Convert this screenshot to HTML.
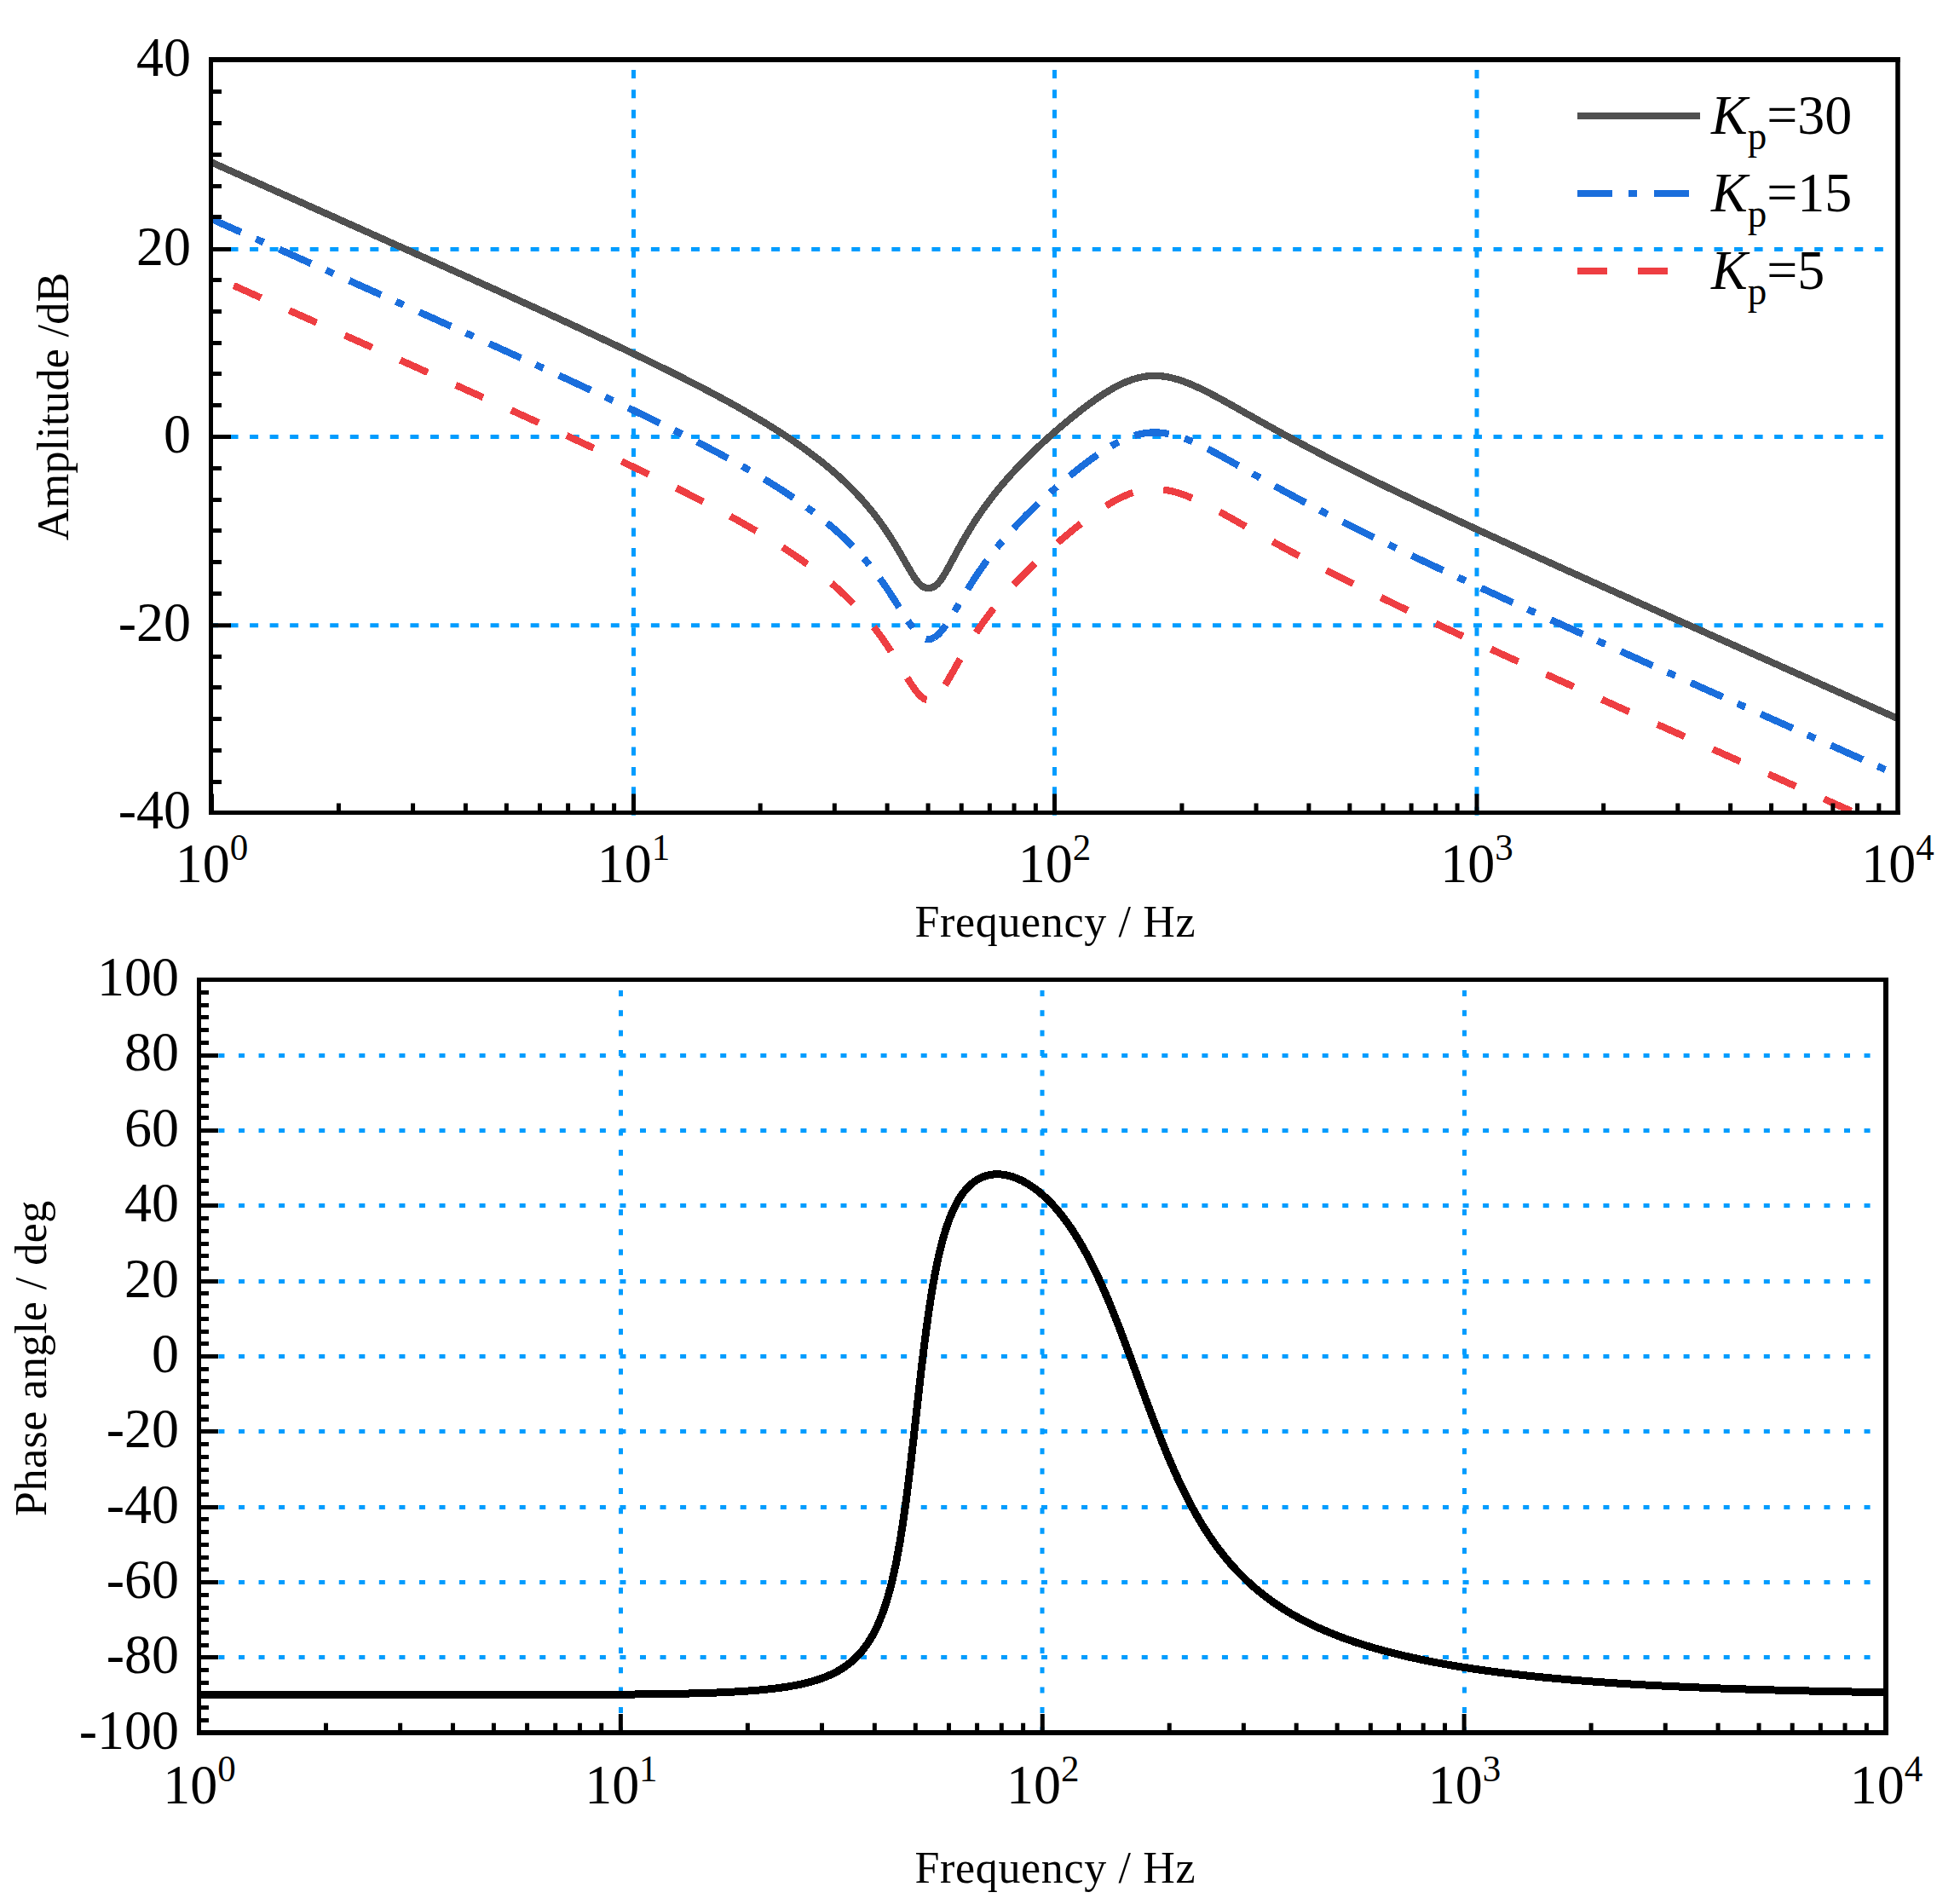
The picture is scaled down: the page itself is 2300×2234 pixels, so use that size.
<!DOCTYPE html>
<html><head><meta charset="utf-8"><title>Bode plot</title>
<style>
html,body{margin:0;padding:0;background:#fff;}
body{width:2300px;height:2234px;overflow:hidden;}
svg{display:block;}
text{font-family:"Liberation Serif","Times New Roman",serif;fill:#000;}
</style></head><body>
<svg xmlns="http://www.w3.org/2000/svg" width="2300" height="2234" viewBox="0 0 2300 2234">
<rect x="0" y="0" width="2300" height="2234" fill="#fff"/>

<line x1="743.5" y1="82" x2="743.5" y2="957" stroke="#009CFF" stroke-width="5" stroke-dasharray="10 13.37"/>
<line x1="1237.5" y1="82" x2="1237.5" y2="957" stroke="#009CFF" stroke-width="5" stroke-dasharray="10 13.37"/>
<line x1="1733.0" y1="82" x2="1733.0" y2="957" stroke="#009CFF" stroke-width="5" stroke-dasharray="10 13.37"/>
<line x1="246" y1="292.5" x2="2210" y2="292.5" stroke="#009CFF" stroke-width="5" stroke-dasharray="10 13.54"/>
<line x1="246" y1="512.5" x2="2210" y2="512.5" stroke="#009CFF" stroke-width="5" stroke-dasharray="10 13.54"/>
<line x1="246" y1="733.8" x2="2210" y2="733.8" stroke="#009CFF" stroke-width="5" stroke-dasharray="10 13.54"/>
<clipPath id="ct"><rect x="247.5" y="70" width="1979.25" height="883.50"/></clipPath>
<g clip-path="url(#ct)" fill="none" stroke-width="8.2" stroke-linejoin="round" shape-rendering="crispEdges">
<path d="M248.50,190.62 L249.82,191.21 L251.14,191.80 L252.46,192.39 L253.78,192.98 L255.10,193.57 L256.42,194.16 L257.74,194.75 L259.06,195.34 L260.38,195.93 L261.70,196.52 L263.02,197.11 L264.34,197.70 L265.66,198.29 L266.98,198.88 L268.30,199.47 L269.62,200.06 L270.94,200.65 L272.26,201.24 L273.58,201.83 L274.90,202.42 L276.22,203.01 L277.54,203.60 L278.86,204.19 L280.19,204.77 L281.51,205.36 L282.83,205.95 L284.15,206.54 L285.47,207.13 L286.79,207.72 L288.11,208.31 L289.43,208.90 L290.75,209.49 L292.07,210.08 L293.39,210.67 L294.71,211.26 L296.03,211.85 L297.35,212.44 L298.67,213.03 L299.99,213.62 L301.31,214.21 L302.63,214.80 L303.95,215.39 L305.27,215.98 L306.59,216.57 L307.91,217.16 L309.23,217.75 L310.55,218.34 L311.87,218.93 L313.19,219.52 L314.51,220.11 L315.83,220.70 L317.15,221.30 L318.47,221.89 L319.79,222.48 L321.11,223.07 L322.43,223.66 L323.75,224.25 L325.07,224.84 L326.39,225.43 L327.71,226.02 L329.03,226.61 L330.35,227.20 L331.67,227.79 L332.99,228.38 L334.31,228.97 L335.63,229.56 L336.95,230.15 L338.27,230.74 L339.59,231.33 L340.91,231.92 L342.24,232.51 L343.56,233.10 L344.88,233.69 L346.20,234.28 L347.52,234.87 L348.84,235.46 L350.16,236.05 L351.48,236.64 L352.80,237.23 L354.12,237.82 L355.44,238.41 L356.76,239.00 L358.08,239.59 L359.40,240.19 L360.72,240.78 L362.04,241.37 L363.36,241.96 L364.68,242.55 L366.00,243.14 L367.32,243.73 L368.64,244.32 L369.96,244.91 L371.28,245.50 L372.60,246.09 L373.92,246.68 L375.24,247.27 L376.56,247.86 L377.88,248.45 L379.20,249.04 L380.52,249.64 L381.84,250.23 L383.16,250.82 L384.48,251.41 L385.80,252.00 L387.12,252.59 L388.44,253.18 L389.76,253.77 L391.08,254.36 L392.40,254.95 L393.72,255.54 L395.04,256.14 L396.36,256.73 L397.68,257.32 L399.00,257.91 L400.32,258.50 L401.64,259.09 L402.96,259.68 L404.29,260.27 L405.61,260.86 L406.93,261.45 L408.25,262.05 L409.57,262.64 L410.89,263.23 L412.21,263.82 L413.53,264.41 L414.85,265.00 L416.17,265.59 L417.49,266.19 L418.81,266.78 L420.13,267.37 L421.45,267.96 L422.77,268.55 L424.09,269.14 L425.41,269.73 L426.73,270.33 L428.05,270.92 L429.37,271.51 L430.69,272.10 L432.01,272.69 L433.33,273.28 L434.65,273.88 L435.97,274.47 L437.29,275.06 L438.61,275.65 L439.93,276.24 L441.25,276.83 L442.57,277.43 L443.89,278.02 L445.21,278.61 L446.53,279.20 L447.85,279.79 L449.17,280.39 L450.49,280.98 L451.81,281.57 L453.13,282.16 L454.45,282.75 L455.77,283.35 L457.09,283.94 L458.41,284.53 L459.73,285.12 L461.05,285.72 L462.37,286.31 L463.69,286.90 L465.02,287.49 L466.34,288.09 L467.66,288.68 L468.98,289.27 L470.30,289.86 L471.62,290.46 L472.94,291.05 L474.26,291.64 L475.58,292.24 L476.90,292.83 L478.22,293.42 L479.54,294.01 L480.86,294.61 L482.18,295.20 L483.50,295.79 L484.82,296.39 L486.14,296.98 L487.46,297.57 L488.78,298.17 L490.10,298.76 L491.42,299.35 L492.74,299.95 L494.06,300.54 L495.38,301.13 L496.70,301.73 L498.02,302.32 L499.34,302.91 L500.66,303.51 L501.98,304.10 L503.30,304.70 L504.62,305.29 L505.94,305.88 L507.26,306.48 L508.58,307.07 L509.90,307.67 L511.22,308.26 L512.54,308.85 L513.86,309.45 L515.18,310.04 L516.50,310.64 L517.82,311.23 L519.14,311.83 L520.46,312.42 L521.78,313.02 L523.10,313.61 L524.42,314.21 L525.74,314.80 L527.07,315.40 L528.39,315.99 L529.71,316.59 L531.03,317.18 L532.35,317.78 L533.67,318.37 L534.99,318.97 L536.31,319.56 L537.63,320.16 L538.95,320.75 L540.27,321.35 L541.59,321.95 L542.91,322.54 L544.23,323.14 L545.55,323.73 L546.87,324.33 L548.19,324.93 L549.51,325.52 L550.83,326.12 L552.15,326.71 L553.47,327.31 L554.79,327.91 L556.11,328.50 L557.43,329.10 L558.75,329.70 L560.07,330.30 L561.39,330.89 L562.71,331.49 L564.03,332.09 L565.35,332.68 L566.67,333.28 L567.99,333.88 L569.31,334.48 L570.63,335.08 L571.95,335.67 L573.27,336.27 L574.59,336.87 L575.91,337.47 L577.23,338.07 L578.55,338.66 L579.87,339.26 L581.19,339.86 L582.51,340.46 L583.83,341.06 L585.15,341.66 L586.47,342.26 L587.79,342.86 L589.12,343.46 L590.44,344.06 L591.76,344.66 L593.08,345.26 L594.40,345.86 L595.72,346.46 L597.04,347.06 L598.36,347.66 L599.68,348.26 L601.00,348.86 L602.32,349.46 L603.64,350.06 L604.96,350.66 L606.28,351.26 L607.60,351.86 L608.92,352.46 L610.24,353.07 L611.56,353.67 L612.88,354.27 L614.20,354.87 L615.52,355.47 L616.84,356.08 L618.16,356.68 L619.48,357.28 L620.80,357.89 L622.12,358.49 L623.44,359.09 L624.76,359.70 L626.08,360.30 L627.40,360.90 L628.72,361.51 L630.04,362.11 L631.36,362.72 L632.68,363.32 L634.00,363.93 L635.32,364.53 L636.64,365.14 L637.96,365.74 L639.28,366.35 L640.60,366.95 L641.92,367.56 L643.24,368.16 L644.56,368.77 L645.88,369.38 L647.20,369.98 L648.52,370.59 L649.84,371.20 L651.17,371.81 L652.49,372.41 L653.81,373.02 L655.13,373.63 L656.45,374.24 L657.77,374.85 L659.09,375.46 L660.41,376.07 L661.73,376.67 L663.05,377.28 L664.37,377.89 L665.69,378.50 L667.01,379.12 L668.33,379.73 L669.65,380.34 L670.97,380.95 L672.29,381.56 L673.61,382.17 L674.93,382.78 L676.25,383.40 L677.57,384.01 L678.89,384.62 L680.21,385.23 L681.53,385.85 L682.85,386.46 L684.17,387.08 L685.49,387.69 L686.81,388.31 L688.13,388.92 L689.45,389.54 L690.77,390.15 L692.09,390.77 L693.41,391.39 L694.73,392.00 L696.05,392.62 L697.37,393.24 L698.69,393.85 L700.01,394.47 L701.33,395.09 L702.65,395.71 L703.97,396.33 L705.29,396.95 L706.61,397.57 L707.93,398.19 L709.25,398.81 L710.57,399.43 L711.89,400.05 L713.22,400.68 L714.54,401.30 L715.86,401.92 L717.18,402.55 L718.50,403.17 L719.82,403.79 L721.14,404.42 L722.46,405.04 L723.78,405.67 L725.10,406.30 L726.42,406.92 L727.74,407.55 L729.06,408.18 L730.38,408.80 L731.70,409.43 L733.02,410.06 L734.34,410.69 L735.66,411.32 L736.98,411.95 L738.30,412.58 L739.62,413.21 L740.94,413.85 L742.26,414.48 L743.58,415.11 L744.90,415.75 L746.22,416.38 L747.54,417.02 L748.86,417.65 L750.18,418.29 L751.50,418.92 L752.82,419.56 L754.14,420.20 L755.46,420.84 L756.78,421.48 L758.10,422.12 L759.42,422.76 L760.74,423.40 L762.06,424.04 L763.38,424.68 L764.70,425.33 L766.02,425.97 L767.34,426.62 L768.66,427.26 L769.98,427.91 L771.30,428.55 L772.62,429.20 L773.94,429.85 L775.27,430.50 L776.59,431.15 L777.91,431.80 L779.23,432.45 L780.55,433.10 L781.87,433.76 L783.19,434.41 L784.51,435.07 L785.83,435.72 L787.15,436.38 L788.47,437.04 L789.79,437.69 L791.11,438.35 L792.43,439.01 L793.75,439.68 L795.07,440.34 L796.39,441.00 L797.71,441.66 L799.03,442.33 L800.35,443.00 L801.67,443.66 L802.99,444.33 L804.31,445.00 L805.63,445.67 L806.95,446.34 L808.27,447.01 L809.59,447.69 L810.91,448.36 L812.23,449.04 L813.55,449.71 L814.87,450.39 L816.19,451.07 L817.51,451.75 L818.83,452.43 L820.15,453.12 L821.47,453.80 L822.79,454.48 L824.11,455.17 L825.43,455.86 L826.75,456.55 L828.07,457.24 L829.39,457.93 L830.71,458.62 L832.03,459.32 L833.35,460.01 L834.67,460.71 L835.99,461.41 L837.32,462.11 L838.64,462.81 L839.96,463.52 L841.28,464.22 L842.60,464.93 L843.92,465.64 L845.24,466.35 L846.56,467.06 L847.88,467.77 L849.20,468.49 L850.52,469.20 L851.84,469.92 L853.16,470.64 L854.48,471.36 L855.80,472.09 L857.12,472.81 L858.44,473.54 L859.76,474.27 L861.08,475.00 L862.40,475.74 L863.72,476.47 L865.04,477.21 L866.36,477.95 L867.68,478.69 L869.00,479.43 L870.32,480.18 L871.64,480.93 L872.96,481.68 L874.28,482.43 L875.60,483.19 L876.92,483.94 L878.24,484.70 L879.56,485.47 L880.88,486.23 L882.20,487.00 L883.52,487.77 L884.84,488.54 L886.16,489.31 L887.48,490.09 L888.80,490.87 L890.12,491.66 L891.44,492.44 L892.76,493.23 L894.08,494.02 L895.40,494.82 L896.72,495.61 L898.05,496.41 L899.37,497.22 L900.69,498.02 L902.01,498.83 L903.33,499.65 L904.65,500.46 L905.97,501.28 L907.29,502.11 L908.61,502.93 L909.93,503.76 L911.25,504.60 L912.57,505.43 L913.89,506.28 L915.21,507.12 L916.53,507.97 L917.85,508.82 L919.17,509.68 L920.49,510.54 L921.81,511.40 L923.13,512.27 L924.45,513.15 L925.77,514.03 L927.09,514.91 L928.41,515.79 L929.73,516.69 L931.05,517.58 L932.37,518.48 L933.69,519.39 L935.01,520.30 L936.33,521.21 L937.65,522.14 L938.97,523.06 L940.29,523.99 L941.61,524.93 L942.93,525.87 L944.25,526.82 L945.57,527.77 L946.89,528.73 L948.21,529.70 L949.53,530.67 L950.85,531.65 L952.17,532.63 L953.49,533.62 L954.81,534.62 L956.13,535.63 L957.45,536.64 L958.77,537.66 L960.10,538.68 L961.42,539.71 L962.74,540.75 L964.06,541.80 L965.38,542.86 L966.70,543.92 L968.02,544.99 L969.34,546.07 L970.66,547.16 L971.98,548.26 L973.30,549.36 L974.62,550.48 L975.94,551.60 L977.26,552.73 L978.58,553.88 L979.90,555.03 L981.22,556.19 L982.54,557.36 L983.86,558.55 L985.18,559.74 L986.50,560.95 L987.82,562.16 L989.14,563.39 L990.46,564.63 L991.78,565.88 L993.10,567.15 L994.42,568.42 L995.74,569.71 L997.06,571.02 L998.38,572.33 L999.70,573.66 L1001.02,575.01 L1002.34,576.36 L1003.66,577.74 L1004.98,579.13 L1006.30,580.53 L1007.62,581.95 L1008.94,583.39 L1010.26,584.84 L1011.58,586.31 L1012.90,587.80 L1014.22,589.30 L1015.54,590.82 L1016.86,592.37 L1018.18,593.93 L1019.50,595.51 L1020.82,597.11 L1022.15,598.73 L1023.47,600.38 L1024.79,602.04 L1026.11,603.73 L1027.43,605.43 L1028.75,607.17 L1030.07,608.92 L1031.39,610.70 L1032.71,612.50 L1034.03,614.33 L1035.35,616.18 L1036.67,618.06 L1037.99,619.96 L1039.31,621.89 L1040.63,623.85 L1041.95,625.83 L1043.27,627.84 L1044.59,629.88 L1045.91,631.94 L1047.23,634.03 L1048.55,636.14 L1049.87,638.28 L1051.19,640.45 L1052.51,642.64 L1053.83,644.85 L1055.15,647.08 L1056.47,649.34 L1057.79,651.61 L1059.11,653.89 L1060.43,656.19 L1061.75,658.49 L1063.07,660.79 L1064.39,663.10 L1065.71,665.39 L1067.03,667.66 L1068.35,669.91 L1069.67,672.11 L1070.99,674.26 L1072.31,676.35 L1073.63,678.34 L1074.95,680.22 L1076.27,681.97 L1077.59,683.57 L1078.91,685.00 L1080.23,686.25 L1081.55,687.30 L1082.87,688.16 L1084.20,688.83 L1085.52,689.33 L1086.84,689.67 L1088.16,689.87 L1089.48,689.94 L1090.80,689.89 L1092.12,689.71 L1093.44,689.39 L1094.76,688.93 L1096.08,688.29 L1097.40,687.48 L1098.72,686.47 L1100.04,685.27 L1101.36,683.87 L1102.68,682.28 L1104.00,680.53 L1105.32,678.62 L1106.64,676.59 L1107.96,674.44 L1109.28,672.22 L1110.60,669.92 L1111.92,667.57 L1113.24,665.18 L1114.56,662.77 L1115.88,660.34 L1117.20,657.90 L1118.52,655.45 L1119.84,653.01 L1121.16,650.57 L1122.48,648.15 L1123.80,645.73 L1125.12,643.34 L1126.44,640.96 L1127.76,638.61 L1129.08,636.28 L1130.40,633.97 L1131.72,631.68 L1133.04,629.43 L1134.36,627.19 L1135.68,624.98 L1137.00,622.80 L1138.32,620.65 L1139.64,618.52 L1140.96,616.41 L1142.28,614.33 L1143.60,612.28 L1144.92,610.25 L1146.25,608.25 L1147.57,606.27 L1148.89,604.31 L1150.21,602.38 L1151.53,600.47 L1152.85,598.59 L1154.17,596.72 L1155.49,594.88 L1156.81,593.06 L1158.13,591.26 L1159.45,589.48 L1160.77,587.72 L1162.09,585.98 L1163.41,584.26 L1164.73,582.55 L1166.05,580.86 L1167.37,579.19 L1168.69,577.54 L1170.01,575.91 L1171.33,574.29 L1172.65,572.68 L1173.97,571.09 L1175.29,569.52 L1176.61,567.96 L1177.93,566.42 L1179.25,564.88 L1180.57,563.37 L1181.89,561.86 L1183.21,560.37 L1184.53,558.89 L1185.85,557.42 L1187.17,555.97 L1188.49,554.52 L1189.81,553.09 L1191.13,551.67 L1192.45,550.25 L1193.77,548.85 L1195.09,547.46 L1196.41,546.08 L1197.73,544.71 L1199.05,543.35 L1200.37,542.00 L1201.69,540.65 L1203.01,539.32 L1204.33,537.99 L1205.65,536.67 L1206.97,535.36 L1208.30,534.06 L1209.62,532.77 L1210.94,531.48 L1212.26,530.20 L1213.58,528.93 L1214.90,527.67 L1216.22,526.41 L1217.54,525.16 L1218.86,523.92 L1220.18,522.68 L1221.50,521.45 L1222.82,520.22 L1224.14,519.01 L1225.46,517.79 L1226.78,516.59 L1228.10,515.39 L1229.42,514.20 L1230.74,513.01 L1232.06,511.83 L1233.38,510.65 L1234.70,509.48 L1236.02,508.31 L1237.34,507.15 L1238.66,506.00 L1239.98,504.85 L1241.30,503.71 L1242.62,502.57 L1243.94,501.44 L1245.26,500.31 L1246.58,499.19 L1247.90,498.07 L1249.22,496.96 L1250.54,495.85 L1251.86,494.75 L1253.18,493.66 L1254.50,492.57 L1255.82,491.49 L1257.14,490.41 L1258.46,489.34 L1259.78,488.27 L1261.10,487.21 L1262.42,486.15 L1263.74,485.10 L1265.06,484.06 L1266.38,483.02 L1267.70,481.99 L1269.03,480.97 L1270.35,479.95 L1271.67,478.94 L1272.99,477.94 L1274.31,476.94 L1275.63,475.95 L1276.95,474.97 L1278.27,474.00 L1279.59,473.03 L1280.91,472.07 L1282.23,471.12 L1283.55,470.18 L1284.87,469.25 L1286.19,468.32 L1287.51,467.41 L1288.83,466.51 L1290.15,465.61 L1291.47,464.73 L1292.79,463.85 L1294.11,462.99 L1295.43,462.14 L1296.75,461.29 L1298.07,460.47 L1299.39,459.65 L1300.71,458.84 L1302.03,458.05 L1303.35,457.27 L1304.67,456.51 L1305.99,455.76 L1307.31,455.02 L1308.63,454.30 L1309.95,453.59 L1311.27,452.90 L1312.59,452.22 L1313.91,451.56 L1315.23,450.92 L1316.55,450.29 L1317.87,449.68 L1319.19,449.09 L1320.51,448.52 L1321.83,447.97 L1323.15,447.43 L1324.47,446.91 L1325.79,446.42 L1327.11,445.94 L1328.43,445.48 L1329.75,445.05 L1331.08,444.63 L1332.40,444.24 L1333.72,443.86 L1335.04,443.51 L1336.36,443.18 L1337.68,442.87 L1339.00,442.59 L1340.32,442.33 L1341.64,442.08 L1342.96,441.87 L1344.28,441.67 L1345.60,441.50 L1346.92,441.35 L1348.24,441.22 L1349.56,441.12 L1350.88,441.03 L1352.20,440.98 L1353.52,440.94 L1354.84,440.93 L1356.16,440.93 L1357.48,440.96 L1358.80,441.02 L1360.12,441.09 L1361.44,441.19 L1362.76,441.31 L1364.08,441.45 L1365.40,441.61 L1366.72,441.79 L1368.04,441.99 L1369.36,442.21 L1370.68,442.45 L1372.00,442.71 L1373.32,442.99 L1374.64,443.28 L1375.96,443.60 L1377.28,443.93 L1378.60,444.28 L1379.92,444.65 L1381.24,445.03 L1382.56,445.43 L1383.88,445.84 L1385.20,446.27 L1386.52,446.72 L1387.84,447.18 L1389.16,447.65 L1390.48,448.14 L1391.80,448.64 L1393.13,449.15 L1394.45,449.67 L1395.77,450.21 L1397.09,450.75 L1398.41,451.31 L1399.73,451.88 L1401.05,452.46 L1402.37,453.04 L1403.69,453.64 L1405.01,454.25 L1406.33,454.86 L1407.65,455.48 L1408.97,456.11 L1410.29,456.75 L1411.61,457.40 L1412.93,458.05 L1414.25,458.71 L1415.57,459.37 L1416.89,460.04 L1418.21,460.72 L1419.53,461.40 L1420.85,462.08 L1422.17,462.77 L1423.49,463.47 L1424.81,464.17 L1426.13,464.87 L1427.45,465.58 L1428.77,466.29 L1430.09,467.00 L1431.41,467.72 L1432.73,468.44 L1434.05,469.16 L1435.37,469.89 L1436.69,470.61 L1438.01,471.34 L1439.33,472.08 L1440.65,472.81 L1441.97,473.54 L1443.29,474.28 L1444.61,475.02 L1445.93,475.76 L1447.25,476.50 L1448.57,477.24 L1449.89,477.98 L1451.21,478.73 L1452.53,479.47 L1453.85,480.21 L1455.18,480.96 L1456.50,481.70 L1457.82,482.45 L1459.14,483.19 L1460.46,483.94 L1461.78,484.69 L1463.10,485.43 L1464.42,486.18 L1465.74,486.92 L1467.06,487.67 L1468.38,488.41 L1469.70,489.16 L1471.02,489.90 L1472.34,490.65 L1473.66,491.39 L1474.98,492.13 L1476.30,492.87 L1477.62,493.62 L1478.94,494.36 L1480.26,495.10 L1481.58,495.84 L1482.90,496.57 L1484.22,497.31 L1485.54,498.05 L1486.86,498.79 L1488.18,499.52 L1489.50,500.25 L1490.82,500.99 L1492.14,501.72 L1493.46,502.45 L1494.78,503.18 L1496.10,503.91 L1497.42,504.64 L1498.74,505.37 L1500.06,506.09 L1501.38,506.82 L1502.70,507.54 L1504.02,508.27 L1505.34,508.99 L1506.66,509.71 L1507.98,510.43 L1509.30,511.15 L1510.62,511.87 L1511.94,512.58 L1513.26,513.30 L1514.58,514.01 L1515.90,514.73 L1517.23,515.44 L1518.55,516.15 L1519.87,516.86 L1521.19,517.57 L1522.51,518.28 L1523.83,518.98 L1525.15,519.69 L1526.47,520.39 L1527.79,521.10 L1529.11,521.80 L1530.43,522.50 L1531.75,523.20 L1533.07,523.90 L1534.39,524.60 L1535.71,525.29 L1537.03,525.99 L1538.35,526.68 L1539.67,527.38 L1540.99,528.07 L1542.31,528.76 L1543.63,529.45 L1544.95,530.14 L1546.27,530.83 L1547.59,531.51 L1548.91,532.20 L1550.23,532.89 L1551.55,533.57 L1552.87,534.25 L1554.19,534.93 L1555.51,535.62 L1556.83,536.30 L1558.15,536.98 L1559.47,537.65 L1560.79,538.33 L1562.11,539.01 L1563.43,539.68 L1564.75,540.36 L1566.07,541.03 L1567.39,541.70 L1568.71,542.37 L1570.03,543.04 L1571.35,543.71 L1572.67,544.38 L1573.99,545.05 L1575.31,545.72 L1576.63,546.38 L1577.95,547.05 L1579.28,547.71 L1580.60,548.38 L1581.92,549.04 L1583.24,549.70 L1584.56,550.36 L1585.88,551.02 L1587.20,551.68 L1588.52,552.34 L1589.84,553.00 L1591.16,553.66 L1592.48,554.31 L1593.80,554.97 L1595.12,555.62 L1596.44,556.28 L1597.76,556.93 L1599.08,557.59 L1600.40,558.24 L1601.72,558.89 L1603.04,559.54 L1604.36,560.19 L1605.68,560.84 L1607.00,561.49 L1608.32,562.13 L1609.64,562.78 L1610.96,563.43 L1612.28,564.07 L1613.60,564.72 L1614.92,565.36 L1616.24,566.01 L1617.56,566.65 L1618.88,567.29 L1620.20,567.93 L1621.52,568.57 L1622.84,569.22 L1624.16,569.86 L1625.48,570.49 L1626.80,571.13 L1628.12,571.77 L1629.44,572.41 L1630.76,573.05 L1632.08,573.68 L1633.40,574.32 L1634.72,574.95 L1636.04,575.59 L1637.36,576.22 L1638.68,576.86 L1640.01,577.49 L1641.33,578.12 L1642.65,578.76 L1643.97,579.39 L1645.29,580.02 L1646.61,580.65 L1647.93,581.28 L1649.25,581.91 L1650.57,582.54 L1651.89,583.17 L1653.21,583.80 L1654.53,584.42 L1655.85,585.05 L1657.17,585.68 L1658.49,586.31 L1659.81,586.93 L1661.13,587.56 L1662.45,588.18 L1663.77,588.81 L1665.09,589.43 L1666.41,590.06 L1667.73,590.68 L1669.05,591.30 L1670.37,591.92 L1671.69,592.55 L1673.01,593.17 L1674.33,593.79 L1675.65,594.41 L1676.97,595.03 L1678.29,595.65 L1679.61,596.27 L1680.93,596.89 L1682.25,597.51 L1683.57,598.13 L1684.89,598.75 L1686.21,599.37 L1687.53,599.99 L1688.85,600.60 L1690.17,601.22 L1691.49,601.84 L1692.81,602.45 L1694.13,603.07 L1695.45,603.69 L1696.77,604.30 L1698.09,604.92 L1699.41,605.53 L1700.73,606.15 L1702.06,606.76 L1703.38,607.37 L1704.70,607.99 L1706.02,608.60 L1707.34,609.21 L1708.66,609.83 L1709.98,610.44 L1711.30,611.05 L1712.62,611.66 L1713.94,612.28 L1715.26,612.89 L1716.58,613.50 L1717.90,614.11 L1719.22,614.72 L1720.54,615.33 L1721.86,615.94 L1723.18,616.55 L1724.50,617.16 L1725.82,617.77 L1727.14,618.38 L1728.46,618.99 L1729.78,619.60 L1731.10,620.20 L1732.42,620.81 L1733.74,621.42 L1735.06,622.03 L1736.38,622.64 L1737.70,623.24 L1739.02,623.85 L1740.34,624.46 L1741.66,625.06 L1742.98,625.67 L1744.30,626.28 L1745.62,626.88 L1746.94,627.49 L1748.26,628.09 L1749.58,628.70 L1750.90,629.31 L1752.22,629.91 L1753.54,630.52 L1754.86,631.12 L1756.18,631.72 L1757.50,632.33 L1758.82,632.93 L1760.14,633.54 L1761.46,634.14 L1762.78,634.74 L1764.11,635.35 L1765.43,635.95 L1766.75,636.55 L1768.07,637.16 L1769.39,637.76 L1770.71,638.36 L1772.03,638.96 L1773.35,639.57 L1774.67,640.17 L1775.99,640.77 L1777.31,641.37 L1778.63,641.97 L1779.95,642.58 L1781.27,643.18 L1782.59,643.78 L1783.91,644.38 L1785.23,644.98 L1786.55,645.58 L1787.87,646.18 L1789.19,646.78 L1790.51,647.38 L1791.83,647.98 L1793.15,648.58 L1794.47,649.18 L1795.79,649.78 L1797.11,650.38 L1798.43,650.98 L1799.75,651.58 L1801.07,652.18 L1802.39,652.78 L1803.71,653.38 L1805.03,653.98 L1806.35,654.58 L1807.67,655.18 L1808.99,655.77 L1810.31,656.37 L1811.63,656.97 L1812.95,657.57 L1814.27,658.17 L1815.59,658.77 L1816.91,659.36 L1818.23,659.96 L1819.55,660.56 L1820.87,661.16 L1822.19,661.75 L1823.51,662.35 L1824.83,662.95 L1826.16,663.55 L1827.48,664.14 L1828.80,664.74 L1830.12,665.34 L1831.44,665.94 L1832.76,666.53 L1834.08,667.13 L1835.40,667.73 L1836.72,668.32 L1838.04,668.92 L1839.36,669.51 L1840.68,670.11 L1842.00,670.71 L1843.32,671.30 L1844.64,671.90 L1845.96,672.49 L1847.28,673.09 L1848.60,673.69 L1849.92,674.28 L1851.24,674.88 L1852.56,675.47 L1853.88,676.07 L1855.20,676.66 L1856.52,677.26 L1857.84,677.85 L1859.16,678.45 L1860.48,679.04 L1861.80,679.64 L1863.12,680.23 L1864.44,680.83 L1865.76,681.42 L1867.08,682.02 L1868.40,682.61 L1869.72,683.21 L1871.04,683.80 L1872.36,684.40 L1873.68,684.99 L1875.00,685.59 L1876.32,686.18 L1877.64,686.78 L1878.96,687.37 L1880.28,687.96 L1881.60,688.56 L1882.92,689.15 L1884.24,689.75 L1885.56,690.34 L1886.88,690.93 L1888.21,691.53 L1889.53,692.12 L1890.85,692.71 L1892.17,693.31 L1893.49,693.90 L1894.81,694.50 L1896.13,695.09 L1897.45,695.68 L1898.77,696.28 L1900.09,696.87 L1901.41,697.46 L1902.73,698.06 L1904.05,698.65 L1905.37,699.24 L1906.69,699.83 L1908.01,700.43 L1909.33,701.02 L1910.65,701.61 L1911.97,702.21 L1913.29,702.80 L1914.61,703.39 L1915.93,703.98 L1917.25,704.58 L1918.57,705.17 L1919.89,705.76 L1921.21,706.36 L1922.53,706.95 L1923.85,707.54 L1925.17,708.13 L1926.49,708.73 L1927.81,709.32 L1929.13,709.91 L1930.45,710.50 L1931.77,711.10 L1933.09,711.69 L1934.41,712.28 L1935.73,712.87 L1937.05,713.46 L1938.37,714.06 L1939.69,714.65 L1941.01,715.24 L1942.33,715.83 L1943.65,716.42 L1944.97,717.02 L1946.29,717.61 L1947.61,718.20 L1948.93,718.79 L1950.26,719.38 L1951.58,719.98 L1952.90,720.57 L1954.22,721.16 L1955.54,721.75 L1956.86,722.34 L1958.18,722.93 L1959.50,723.53 L1960.82,724.12 L1962.14,724.71 L1963.46,725.30 L1964.78,725.89 L1966.10,726.48 L1967.42,727.07 L1968.74,727.67 L1970.06,728.26 L1971.38,728.85 L1972.70,729.44 L1974.02,730.03 L1975.34,730.62 L1976.66,731.21 L1977.98,731.81 L1979.30,732.40 L1980.62,732.99 L1981.94,733.58 L1983.26,734.17 L1984.58,734.76 L1985.90,735.35 L1987.22,735.94 L1988.54,736.53 L1989.86,737.13 L1991.18,737.72 L1992.50,738.31 L1993.82,738.90 L1995.14,739.49 L1996.46,740.08 L1997.78,740.67 L1999.10,741.26 L2000.42,741.85 L2001.74,742.44 L2003.06,743.04 L2004.38,743.63 L2005.70,744.22 L2007.02,744.81 L2008.34,745.40 L2009.66,745.99 L2010.98,746.58 L2012.31,747.17 L2013.63,747.76 L2014.95,748.35 L2016.27,748.94 L2017.59,749.53 L2018.91,750.12 L2020.23,750.71 L2021.55,751.31 L2022.87,751.90 L2024.19,752.49 L2025.51,753.08 L2026.83,753.67 L2028.15,754.26 L2029.47,754.85 L2030.79,755.44 L2032.11,756.03 L2033.43,756.62 L2034.75,757.21 L2036.07,757.80 L2037.39,758.39 L2038.71,758.98 L2040.03,759.57 L2041.35,760.16 L2042.67,760.75 L2043.99,761.34 L2045.31,761.93 L2046.63,762.52 L2047.95,763.11 L2049.27,763.71 L2050.59,764.30 L2051.91,764.89 L2053.23,765.48 L2054.55,766.07 L2055.87,766.66 L2057.19,767.25 L2058.51,767.84 L2059.83,768.43 L2061.15,769.02 L2062.47,769.61 L2063.79,770.20 L2065.11,770.79 L2066.43,771.38 L2067.75,771.97 L2069.07,772.56 L2070.39,773.15 L2071.71,773.74 L2073.04,774.33 L2074.36,774.92 L2075.68,775.51 L2077.00,776.10 L2078.32,776.69 L2079.64,777.28 L2080.96,777.87 L2082.28,778.46 L2083.60,779.05 L2084.92,779.64 L2086.24,780.23 L2087.56,780.82 L2088.88,781.41 L2090.20,782.00 L2091.52,782.59 L2092.84,783.18 L2094.16,783.77 L2095.48,784.36 L2096.80,784.95 L2098.12,785.54 L2099.44,786.13 L2100.76,786.72 L2102.08,787.31 L2103.40,787.90 L2104.72,788.49 L2106.04,789.08 L2107.36,789.67 L2108.68,790.26 L2110.00,790.85 L2111.32,791.44 L2112.64,792.03 L2113.96,792.62 L2115.28,793.21 L2116.60,793.80 L2117.92,794.39 L2119.24,794.98 L2120.56,795.57 L2121.88,796.16 L2123.20,796.75 L2124.52,797.34 L2125.84,797.93 L2127.16,798.52 L2128.48,799.11 L2129.80,799.70 L2131.12,800.29 L2132.44,800.88 L2133.76,801.47 L2135.09,802.06 L2136.41,802.65 L2137.73,803.24 L2139.05,803.82 L2140.37,804.41 L2141.69,805.00 L2143.01,805.59 L2144.33,806.18 L2145.65,806.77 L2146.97,807.36 L2148.29,807.95 L2149.61,808.54 L2150.93,809.13 L2152.25,809.72 L2153.57,810.31 L2154.89,810.90 L2156.21,811.49 L2157.53,812.08 L2158.85,812.67 L2160.17,813.26 L2161.49,813.85 L2162.81,814.44 L2164.13,815.03 L2165.45,815.62 L2166.77,816.21 L2168.09,816.80 L2169.41,817.39 L2170.73,817.98 L2172.05,818.57 L2173.37,819.16 L2174.69,819.75 L2176.01,820.34 L2177.33,820.93 L2178.65,821.52 L2179.97,822.11 L2181.29,822.69 L2182.61,823.28 L2183.93,823.87 L2185.25,824.46 L2186.57,825.05 L2187.89,825.64 L2189.21,826.23 L2190.53,826.82 L2191.85,827.41 L2193.17,828.00 L2194.49,828.59 L2195.81,829.18 L2197.14,829.77 L2198.46,830.36 L2199.78,830.95 L2201.10,831.54 L2202.42,832.13 L2203.74,832.72 L2205.06,833.31 L2206.38,833.90 L2207.70,834.49 L2209.02,835.08 L2210.34,835.67 L2211.66,836.26 L2212.98,836.84 L2214.30,837.43 L2215.62,838.02 L2216.94,838.61 L2218.26,839.20 L2219.58,839.79 L2220.90,840.38 L2222.22,840.97 L2223.54,841.56 L2224.86,842.15 L2226.18,842.74 L2227.50,843.33" stroke="#505050"/>
<path d="M248.50,257.10 L249.82,257.69 L251.14,258.28 L252.46,258.87 L253.78,259.46 L255.10,260.05 L256.42,260.64 L257.74,261.23 L259.06,261.82 L260.38,262.41 L261.70,263.00 L263.02,263.59 L264.34,264.18 L265.66,264.77 L266.98,265.36 L268.30,265.95 L269.62,266.54 L270.94,267.13 L272.26,267.72 L273.58,268.31 L274.90,268.90 L276.22,269.49 L277.54,270.08 L278.86,270.67 L280.19,271.26 L281.51,271.85 L282.83,272.44 L284.15,273.03 L285.47,273.62 L286.79,274.21 L288.11,274.80 L289.43,275.39 L290.75,275.98 L292.07,276.57 L293.39,277.16 L294.71,277.75 L296.03,278.34 L297.35,278.93 L298.67,279.52 L299.99,280.11 L301.31,280.70 L302.63,281.29 L303.95,281.88 L305.27,282.47 L306.59,283.06 L307.91,283.65 L309.23,284.24 L310.55,284.83 L311.87,285.42 L313.19,286.01 L314.51,286.60 L315.83,287.19 L317.15,287.78 L318.47,288.37 L319.79,288.96 L321.11,289.55 L322.43,290.14 L323.75,290.73 L325.07,291.32 L326.39,291.91 L327.71,292.50 L329.03,293.09 L330.35,293.68 L331.67,294.27 L332.99,294.86 L334.31,295.45 L335.63,296.04 L336.95,296.63 L338.27,297.22 L339.59,297.81 L340.91,298.40 L342.24,298.99 L343.56,299.58 L344.88,300.17 L346.20,300.76 L347.52,301.35 L348.84,301.94 L350.16,302.53 L351.48,303.12 L352.80,303.72 L354.12,304.31 L355.44,304.90 L356.76,305.49 L358.08,306.08 L359.40,306.67 L360.72,307.26 L362.04,307.85 L363.36,308.44 L364.68,309.03 L366.00,309.62 L367.32,310.21 L368.64,310.80 L369.96,311.39 L371.28,311.98 L372.60,312.57 L373.92,313.16 L375.24,313.75 L376.56,314.35 L377.88,314.94 L379.20,315.53 L380.52,316.12 L381.84,316.71 L383.16,317.30 L384.48,317.89 L385.80,318.48 L387.12,319.07 L388.44,319.66 L389.76,320.25 L391.08,320.84 L392.40,321.44 L393.72,322.03 L395.04,322.62 L396.36,323.21 L397.68,323.80 L399.00,324.39 L400.32,324.98 L401.64,325.57 L402.96,326.16 L404.29,326.75 L405.61,327.35 L406.93,327.94 L408.25,328.53 L409.57,329.12 L410.89,329.71 L412.21,330.30 L413.53,330.89 L414.85,331.48 L416.17,332.08 L417.49,332.67 L418.81,333.26 L420.13,333.85 L421.45,334.44 L422.77,335.03 L424.09,335.62 L425.41,336.22 L426.73,336.81 L428.05,337.40 L429.37,337.99 L430.69,338.58 L432.01,339.17 L433.33,339.77 L434.65,340.36 L435.97,340.95 L437.29,341.54 L438.61,342.13 L439.93,342.72 L441.25,343.32 L442.57,343.91 L443.89,344.50 L445.21,345.09 L446.53,345.68 L447.85,346.28 L449.17,346.87 L450.49,347.46 L451.81,348.05 L453.13,348.64 L454.45,349.24 L455.77,349.83 L457.09,350.42 L458.41,351.01 L459.73,351.61 L461.05,352.20 L462.37,352.79 L463.69,353.38 L465.02,353.98 L466.34,354.57 L467.66,355.16 L468.98,355.75 L470.30,356.35 L471.62,356.94 L472.94,357.53 L474.26,358.12 L475.58,358.72 L476.90,359.31 L478.22,359.90 L479.54,360.50 L480.86,361.09 L482.18,361.68 L483.50,362.28 L484.82,362.87 L486.14,363.46 L487.46,364.06 L488.78,364.65 L490.10,365.24 L491.42,365.84 L492.74,366.43 L494.06,367.02 L495.38,367.62 L496.70,368.21 L498.02,368.80 L499.34,369.40 L500.66,369.99 L501.98,370.58 L503.30,371.18 L504.62,371.77 L505.94,372.37 L507.26,372.96 L508.58,373.55 L509.90,374.15 L511.22,374.74 L512.54,375.34 L513.86,375.93 L515.18,376.53 L516.50,377.12 L517.82,377.71 L519.14,378.31 L520.46,378.90 L521.78,379.50 L523.10,380.09 L524.42,380.69 L525.74,381.28 L527.07,381.88 L528.39,382.47 L529.71,383.07 L531.03,383.66 L532.35,384.26 L533.67,384.85 L534.99,385.45 L536.31,386.04 L537.63,386.64 L538.95,387.24 L540.27,387.83 L541.59,388.43 L542.91,389.02 L544.23,389.62 L545.55,390.22 L546.87,390.81 L548.19,391.41 L549.51,392.00 L550.83,392.60 L552.15,393.20 L553.47,393.79 L554.79,394.39 L556.11,394.99 L557.43,395.58 L558.75,396.18 L560.07,396.78 L561.39,397.38 L562.71,397.97 L564.03,398.57 L565.35,399.17 L566.67,399.76 L567.99,400.36 L569.31,400.96 L570.63,401.56 L571.95,402.16 L573.27,402.75 L574.59,403.35 L575.91,403.95 L577.23,404.55 L578.55,405.15 L579.87,405.75 L581.19,406.34 L582.51,406.94 L583.83,407.54 L585.15,408.14 L586.47,408.74 L587.79,409.34 L589.12,409.94 L590.44,410.54 L591.76,411.14 L593.08,411.74 L594.40,412.34 L595.72,412.94 L597.04,413.54 L598.36,414.14 L599.68,414.74 L601.00,415.34 L602.32,415.94 L603.64,416.54 L604.96,417.14 L606.28,417.74 L607.60,418.35 L608.92,418.95 L610.24,419.55 L611.56,420.15 L612.88,420.75 L614.20,421.36 L615.52,421.96 L616.84,422.56 L618.16,423.16 L619.48,423.77 L620.80,424.37 L622.12,424.97 L623.44,425.57 L624.76,426.18 L626.08,426.78 L627.40,427.39 L628.72,427.99 L630.04,428.59 L631.36,429.20 L632.68,429.80 L634.00,430.41 L635.32,431.01 L636.64,431.62 L637.96,432.22 L639.28,432.83 L640.60,433.43 L641.92,434.04 L643.24,434.65 L644.56,435.25 L645.88,435.86 L647.20,436.47 L648.52,437.07 L649.84,437.68 L651.17,438.29 L652.49,438.90 L653.81,439.50 L655.13,440.11 L656.45,440.72 L657.77,441.33 L659.09,441.94 L660.41,442.55 L661.73,443.16 L663.05,443.77 L664.37,444.38 L665.69,444.99 L667.01,445.60 L668.33,446.21 L669.65,446.82 L670.97,447.43 L672.29,448.04 L673.61,448.65 L674.93,449.27 L676.25,449.88 L677.57,450.49 L678.89,451.10 L680.21,451.72 L681.53,452.33 L682.85,452.94 L684.17,453.56 L685.49,454.17 L686.81,454.79 L688.13,455.40 L689.45,456.02 L690.77,456.63 L692.09,457.25 L693.41,457.87 L694.73,458.48 L696.05,459.10 L697.37,459.72 L698.69,460.34 L700.01,460.96 L701.33,461.57 L702.65,462.19 L703.97,462.81 L705.29,463.43 L706.61,464.05 L707.93,464.67 L709.25,465.29 L710.57,465.91 L711.89,466.54 L713.22,467.16 L714.54,467.78 L715.86,468.40 L717.18,469.03 L718.50,469.65 L719.82,470.28 L721.14,470.90 L722.46,471.53 L723.78,472.15 L725.10,472.78 L726.42,473.40 L727.74,474.03 L729.06,474.66 L730.38,475.29 L731.70,475.92 L733.02,476.54 L734.34,477.17 L735.66,477.80 L736.98,478.43 L738.30,479.07 L739.62,479.70 L740.94,480.33 L742.26,480.96 L743.58,481.60 L744.90,482.23 L746.22,482.86 L747.54,483.50 L748.86,484.13 L750.18,484.77 L751.50,485.41 L752.82,486.04 L754.14,486.68 L755.46,487.32 L756.78,487.96 L758.10,488.60 L759.42,489.24 L760.74,489.88 L762.06,490.52 L763.38,491.17 L764.70,491.81 L766.02,492.45 L767.34,493.10 L768.66,493.74 L769.98,494.39 L771.30,495.04 L772.62,495.69 L773.94,496.33 L775.27,496.98 L776.59,497.63 L777.91,498.28 L779.23,498.93 L780.55,499.59 L781.87,500.24 L783.19,500.89 L784.51,501.55 L785.83,502.20 L787.15,502.86 L788.47,503.52 L789.79,504.18 L791.11,504.84 L792.43,505.50 L793.75,506.16 L795.07,506.82 L796.39,507.48 L797.71,508.15 L799.03,508.81 L800.35,509.48 L801.67,510.14 L802.99,510.81 L804.31,511.48 L805.63,512.15 L806.95,512.82 L808.27,513.50 L809.59,514.17 L810.91,514.84 L812.23,515.52 L813.55,516.20 L814.87,516.87 L816.19,517.55 L817.51,518.23 L818.83,518.91 L820.15,519.60 L821.47,520.28 L822.79,520.97 L824.11,521.65 L825.43,522.34 L826.75,523.03 L828.07,523.72 L829.39,524.41 L830.71,525.11 L832.03,525.80 L833.35,526.50 L834.67,527.19 L835.99,527.89 L837.32,528.59 L838.64,529.30 L839.96,530.00 L841.28,530.71 L842.60,531.41 L843.92,532.12 L845.24,532.83 L846.56,533.54 L847.88,534.25 L849.20,534.97 L850.52,535.69 L851.84,536.40 L853.16,537.13 L854.48,537.85 L855.80,538.57 L857.12,539.30 L858.44,540.02 L859.76,540.75 L861.08,541.49 L862.40,542.22 L863.72,542.95 L865.04,543.69 L866.36,544.43 L867.68,545.17 L869.00,545.92 L870.32,546.66 L871.64,547.41 L872.96,548.16 L874.28,548.91 L875.60,549.67 L876.92,550.43 L878.24,551.19 L879.56,551.95 L880.88,552.71 L882.20,553.48 L883.52,554.25 L884.84,555.02 L886.16,555.80 L887.48,556.57 L888.80,557.35 L890.12,558.14 L891.44,558.92 L892.76,559.71 L894.08,560.50 L895.40,561.30 L896.72,562.10 L898.05,562.90 L899.37,563.70 L900.69,564.51 L902.01,565.32 L903.33,566.13 L904.65,566.95 L905.97,567.77 L907.29,568.59 L908.61,569.42 L909.93,570.25 L911.25,571.08 L912.57,571.92 L913.89,572.76 L915.21,573.60 L916.53,574.45 L917.85,575.30 L919.17,576.16 L920.49,577.02 L921.81,577.89 L923.13,578.76 L924.45,579.63 L925.77,580.51 L927.09,581.39 L928.41,582.28 L929.73,583.17 L931.05,584.06 L932.37,584.97 L933.69,585.87 L935.01,586.78 L936.33,587.70 L937.65,588.62 L938.97,589.54 L940.29,590.48 L941.61,591.41 L942.93,592.35 L944.25,593.30 L945.57,594.26 L946.89,595.22 L948.21,596.18 L949.53,597.15 L950.85,598.13 L952.17,599.12 L953.49,600.11 L954.81,601.10 L956.13,602.11 L957.45,603.12 L958.77,604.14 L960.10,605.16 L961.42,606.20 L962.74,607.24 L964.06,608.28 L965.38,609.34 L966.70,610.40 L968.02,611.47 L969.34,612.55 L970.66,613.64 L971.98,614.74 L973.30,615.84 L974.62,616.96 L975.94,618.08 L977.26,619.22 L978.58,620.36 L979.90,621.51 L981.22,622.67 L982.54,623.85 L983.86,625.03 L985.18,626.22 L986.50,627.43 L987.82,628.65 L989.14,629.87 L990.46,631.11 L991.78,632.37 L993.10,633.63 L994.42,634.91 L995.74,636.20 L997.06,637.50 L998.38,638.81 L999.70,640.14 L1001.02,641.49 L1002.34,642.85 L1003.66,644.22 L1004.98,645.61 L1006.30,647.01 L1007.62,648.43 L1008.94,649.87 L1010.26,651.32 L1011.58,652.79 L1012.90,654.28 L1014.22,655.78 L1015.54,657.31 L1016.86,658.85 L1018.18,660.41 L1019.50,661.99 L1020.82,663.59 L1022.15,665.21 L1023.47,666.86 L1024.79,668.52 L1026.11,670.21 L1027.43,671.91 L1028.75,673.64 L1030.07,675.40 L1031.39,677.17 L1032.71,678.97 L1034.03,680.79 L1035.35,682.64 L1036.67,684.51 L1037.99,686.41 L1039.31,688.32 L1040.63,690.26 L1041.95,692.22 L1043.27,694.21 L1044.59,696.21 L1045.91,698.23 L1047.23,700.27 L1048.55,702.33 L1049.87,704.40 L1051.19,706.48 L1052.51,708.56 L1053.83,710.66 L1055.15,712.75 L1056.47,714.84 L1057.79,716.92 L1059.11,718.99 L1060.43,721.05 L1061.75,723.08 L1063.07,725.09 L1064.39,727.06 L1065.71,729.00 L1067.03,730.90 L1068.35,732.74 L1069.67,734.54 L1070.99,736.27 L1072.31,737.93 L1073.63,739.52 L1074.95,741.03 L1076.27,742.46 L1077.59,743.78 L1078.91,745.00 L1080.23,746.11 L1081.55,747.09 L1082.87,747.95 L1084.20,748.66 L1085.52,749.23 L1086.84,749.65 L1088.16,749.92 L1089.48,750.02 L1090.80,749.96 L1092.12,749.73 L1093.44,749.35 L1094.76,748.80 L1096.08,748.11" stroke="#1A6EDC" stroke-dasharray="41 19 10 20" stroke-dashoffset="3.3"/>
<path d="M1096.08,748.11 L1097.40,747.26 L1098.72,746.28 L1100.04,745.16 L1101.36,743.92 L1102.68,742.57 L1104.00,741.11 L1105.32,739.55 L1106.64,737.90 L1107.96,736.17 L1109.28,734.36 L1110.60,732.48 L1111.92,730.54 L1113.24,728.54 L1114.56,726.50 L1115.88,724.41 L1117.20,722.29 L1118.52,720.13 L1119.84,717.95 L1121.16,715.74 L1122.48,713.52 L1123.80,711.29 L1125.12,709.05 L1126.44,706.81 L1127.76,704.57 L1129.08,702.34 L1130.40,700.11 L1131.72,697.89 L1133.04,695.69 L1134.36,693.50 L1135.68,691.33 L1137.00,689.18 L1138.32,687.04 L1139.64,684.93 L1140.96,682.84 L1142.28,680.78 L1143.60,678.73 L1144.92,676.71 L1146.25,674.72 L1147.57,672.74 L1148.89,670.79 L1150.21,668.86 L1151.53,666.95 L1152.85,665.07 L1154.17,663.21 L1155.49,661.36 L1156.81,659.54 L1158.13,657.74 L1159.45,655.96 L1160.77,654.20 L1162.09,652.46 L1163.41,650.74 L1164.73,649.03 L1166.05,647.35 L1167.37,645.68 L1168.69,644.02 L1170.01,642.39 L1171.33,640.77 L1172.65,639.16 L1173.97,637.58 L1175.29,636.00 L1176.61,634.44 L1177.93,632.90 L1179.25,631.37 L1180.57,629.85 L1181.89,628.34 L1183.21,626.85 L1184.53,625.37 L1185.85,623.90 L1187.17,622.45 L1188.49,621.00 L1189.81,619.57 L1191.13,618.15 L1192.45,616.74 L1193.77,615.34 L1195.09,613.95 L1196.41,612.56 L1197.73,611.19 L1199.05,609.83 L1200.37,608.48 L1201.69,607.14 L1203.01,605.80 L1204.33,604.47 L1205.65,603.16 L1206.97,601.85 L1208.30,600.54 L1209.62,599.25 L1210.94,597.96 L1212.26,596.69 L1213.58,595.41 L1214.90,594.15 L1216.22,592.89 L1217.54,591.64 L1218.86,590.40 L1220.18,589.16 L1221.50,587.93 L1222.82,586.71 L1224.14,585.49 L1225.46,584.28 L1226.78,583.07 L1228.10,581.87 L1229.42,580.68 L1230.74,579.49 L1232.06,578.31 L1233.38,577.13 L1234.70,575.96 L1236.02,574.80 L1237.34,573.64 L1238.66,572.48 L1239.98,571.33 L1241.30,570.19 L1242.62,569.05 L1243.94,567.92 L1245.26,566.79 L1246.58,565.67 L1247.90,564.55 L1249.22,563.44 L1250.54,562.34 L1251.86,561.24 L1253.18,560.14 L1254.50,559.05 L1255.82,557.97 L1257.14,556.89 L1258.46,555.82 L1259.78,554.75 L1261.10,553.69 L1262.42,552.64 L1263.74,551.59 L1265.06,550.54 L1266.38,549.51 L1267.70,548.48 L1269.03,547.45 L1270.35,546.43 L1271.67,545.42 L1272.99,544.42 L1274.31,543.42 L1275.63,542.43 L1276.95,541.45 L1278.27,540.48 L1279.59,539.51 L1280.91,538.55 L1282.23,537.60 L1283.55,536.66 L1284.87,535.73 L1286.19,534.81 L1287.51,533.89 L1288.83,532.99 L1290.15,532.09 L1291.47,531.21 L1292.79,530.33 L1294.11,529.47 L1295.43,528.62 L1296.75,527.78 L1298.07,526.95 L1299.39,526.13 L1300.71,525.33 L1302.03,524.53 L1303.35,523.76 L1304.67,522.99 L1305.99,522.24 L1307.31,521.50 L1308.63,520.78 L1309.95,520.07 L1311.27,519.38 L1312.59,518.71 L1313.91,518.05 L1315.23,517.40 L1316.55,516.78 L1317.87,516.17 L1319.19,515.58 L1320.51,515.00 L1321.83,514.45 L1323.15,513.91 L1324.47,513.40 L1325.79,512.90 L1327.11,512.42 L1328.43,511.97 L1329.75,511.53 L1331.08,511.11 L1332.40,510.72 L1333.72,510.35 L1335.04,509.99 L1336.36,509.67 L1337.68,509.36 L1339.00,509.07 L1340.32,508.81 L1341.64,508.57 L1342.96,508.35 L1344.28,508.15 L1345.60,507.98 L1346.92,507.83 L1348.24,507.70 L1349.56,507.60 L1350.88,507.52 L1352.20,507.46 L1353.52,507.42 L1354.84,507.41 L1356.16,507.42 L1357.48,507.45 L1358.80,507.50 L1360.12,507.57 L1361.44,507.67 L1362.76,507.79 L1364.08,507.93 L1365.40,508.09 L1366.72,508.27 L1368.04,508.47 L1369.36,508.69 L1370.68,508.93 L1372.00,509.19 L1373.32,509.47 L1374.64,509.77 L1375.96,510.08 L1377.28,510.41 L1378.60,510.76 L1379.92,511.13 L1381.24,511.51 L1382.56,511.91 L1383.88,512.33 L1385.20,512.76 L1386.52,513.20 L1387.84,513.66 L1389.16,514.13 L1390.48,514.62 L1391.80,515.12 L1393.13,515.63 L1394.45,516.15 L1395.77,516.69 L1397.09,517.24 L1398.41,517.79 L1399.73,518.36 L1401.05,518.94 L1402.37,519.53 L1403.69,520.12 L1405.01,520.73 L1406.33,521.34 L1407.65,521.97 L1408.97,522.60 L1410.29,523.23 L1411.61,523.88 L1412.93,524.53 L1414.25,525.19 L1415.57,525.85 L1416.89,526.52 L1418.21,527.20 L1419.53,527.88 L1420.85,528.57 L1422.17,529.26 L1423.49,529.95 L1424.81,530.65 L1426.13,531.35 L1427.45,532.06 L1428.77,532.77 L1430.09,533.49 L1431.41,534.20 L1432.73,534.92 L1434.05,535.64 L1435.37,536.37 L1436.69,537.10 L1438.01,537.83 L1439.33,538.56 L1440.65,539.29 L1441.97,540.03 L1443.29,540.76 L1444.61,541.50 L1445.93,542.24 L1447.25,542.98 L1448.57,543.72 L1449.89,544.46 L1451.21,545.21 L1452.53,545.95 L1453.85,546.70 L1455.18,547.44 L1456.50,548.19 L1457.82,548.93 L1459.14,549.68 L1460.46,550.42 L1461.78,551.17 L1463.10,551.91 L1464.42,552.66 L1465.74,553.41 L1467.06,554.15 L1468.38,554.90 L1469.70,555.64 L1471.02,556.38 L1472.34,557.13 L1473.66,557.87 L1474.98,558.61 L1476.30,559.36 L1477.62,560.10 L1478.94,560.84 L1480.26,561.58 L1481.58,562.32 L1482.90,563.06 L1484.22,563.79 L1485.54,564.53 L1486.86,565.27 L1488.18,566.00 L1489.50,566.74 L1490.82,567.47 L1492.14,568.20 L1493.46,568.93 L1494.78,569.66 L1496.10,570.39 L1497.42,571.12 L1498.74,571.85 L1500.06,572.58 L1501.38,573.30 L1502.70,574.03 L1504.02,574.75 L1505.34,575.47 L1506.66,576.19 L1507.98,576.91 L1509.30,577.63 L1510.62,578.35 L1511.94,579.07 L1513.26,579.78 L1514.58,580.50 L1515.90,581.21 L1517.23,581.92 L1518.55,582.63 L1519.87,583.34 L1521.19,584.05 L1522.51,584.76 L1523.83,585.47 L1525.15,586.17 L1526.47,586.87 L1527.79,587.58 L1529.11,588.28 L1530.43,588.98 L1531.75,589.68 L1533.07,590.38 L1534.39,591.08 L1535.71,591.77 L1537.03,592.47 L1538.35,593.16 L1539.67,593.86 L1540.99,594.55 L1542.31,595.24 L1543.63,595.93 L1544.95,596.62 L1546.27,597.31 L1547.59,598.00 L1548.91,598.68 L1550.23,599.37 L1551.55,600.05 L1552.87,600.74 L1554.19,601.42 L1555.51,602.10 L1556.83,602.78 L1558.15,603.46 L1559.47,604.14 L1560.79,604.81 L1562.11,605.49 L1563.43,606.16 L1564.75,606.84 L1566.07,607.51 L1567.39,608.18 L1568.71,608.86 L1570.03,609.53 L1571.35,610.20 L1572.67,610.87 L1573.99,611.53 L1575.31,612.20 L1576.63,612.87 L1577.95,613.53 L1579.28,614.20 L1580.60,614.86 L1581.92,615.52 L1583.24,616.19 L1584.56,616.85 L1585.88,617.51 L1587.20,618.17 L1588.52,618.83 L1589.84,619.48 L1591.16,620.14 L1592.48,620.80 L1593.80,621.45 L1595.12,622.11 L1596.44,622.76 L1597.76,623.41 L1599.08,624.07 L1600.40,624.72 L1601.72,625.37 L1603.04,626.02 L1604.36,626.67 L1605.68,627.32 L1607.00,627.97 L1608.32,628.62 L1609.64,629.26 L1610.96,629.91 L1612.28,630.56 L1613.60,631.20 L1614.92,631.84 L1616.24,632.49 L1617.56,633.13 L1618.88,633.77 L1620.20,634.42 L1621.52,635.06 L1622.84,635.70 L1624.16,636.34 L1625.48,636.98 L1626.80,637.62 L1628.12,638.25 L1629.44,638.89 L1630.76,639.53 L1632.08,640.17 L1633.40,640.80 L1634.72,641.44 L1636.04,642.07 L1637.36,642.71 L1638.68,643.34 L1640.01,643.97 L1641.33,644.61 L1642.65,645.24 L1643.97,645.87 L1645.29,646.50 L1646.61,647.13 L1647.93,647.76 L1649.25,648.39 L1650.57,649.02 L1651.89,649.65 L1653.21,650.28 L1654.53,650.91 L1655.85,651.53 L1657.17,652.16 L1658.49,652.79 L1659.81,653.41 L1661.13,654.04 L1662.45,654.66 L1663.77,655.29 L1665.09,655.91 L1666.41,656.54 L1667.73,657.16 L1669.05,657.78 L1670.37,658.41 L1671.69,659.03 L1673.01,659.65 L1674.33,660.27 L1675.65,660.89 L1676.97,661.52 L1678.29,662.14 L1679.61,662.76 L1680.93,663.38 L1682.25,663.99 L1683.57,664.61 L1684.89,665.23 L1686.21,665.85 L1687.53,666.47 L1688.85,667.09 L1690.17,667.70 L1691.49,668.32 L1692.81,668.94 L1694.13,669.55 L1695.45,670.17 L1696.77,670.78 L1698.09,671.40 L1699.41,672.01 L1700.73,672.63 L1702.06,673.24 L1703.38,673.86 L1704.70,674.47 L1706.02,675.08 L1707.34,675.70 L1708.66,676.31 L1709.98,676.92 L1711.30,677.53 L1712.62,678.15 L1713.94,678.76 L1715.26,679.37 L1716.58,679.98 L1717.90,680.59 L1719.22,681.20 L1720.54,681.81 L1721.86,682.42 L1723.18,683.03 L1724.50,683.64 L1725.82,684.25 L1727.14,684.86 L1728.46,685.47 L1729.78,686.08 L1731.10,686.69 L1732.42,687.30 L1733.74,687.90 L1735.06,688.51 L1736.38,689.12 L1737.70,689.73 L1739.02,690.33 L1740.34,690.94 L1741.66,691.55 L1742.98,692.15 L1744.30,692.76 L1745.62,693.37 L1746.94,693.97 L1748.26,694.58 L1749.58,695.18 L1750.90,695.79 L1752.22,696.39 L1753.54,697.00 L1754.86,697.60 L1756.18,698.21 L1757.50,698.81 L1758.82,699.42 L1760.14,700.02 L1761.46,700.62 L1762.78,701.23 L1764.11,701.83 L1765.43,702.43 L1766.75,703.04 L1768.07,703.64 L1769.39,704.24 L1770.71,704.84 L1772.03,705.45 L1773.35,706.05 L1774.67,706.65 L1775.99,707.25 L1777.31,707.86 L1778.63,708.46 L1779.95,709.06 L1781.27,709.66 L1782.59,710.26 L1783.91,710.86 L1785.23,711.46 L1786.55,712.06 L1787.87,712.66 L1789.19,713.26 L1790.51,713.87 L1791.83,714.47 L1793.15,715.07 L1794.47,715.67 L1795.79,716.27 L1797.11,716.87 L1798.43,717.46 L1799.75,718.06 L1801.07,718.66 L1802.39,719.26 L1803.71,719.86 L1805.03,720.46 L1806.35,721.06 L1807.67,721.66 L1808.99,722.26 L1810.31,722.86 L1811.63,723.45 L1812.95,724.05 L1814.27,724.65 L1815.59,725.25 L1816.91,725.85 L1818.23,726.44 L1819.55,727.04 L1820.87,727.64 L1822.19,728.24 L1823.51,728.83 L1824.83,729.43 L1826.16,730.03 L1827.48,730.63 L1828.80,731.22 L1830.12,731.82 L1831.44,732.42 L1832.76,733.01 L1834.08,733.61 L1835.40,734.21 L1836.72,734.80 L1838.04,735.40 L1839.36,736.00 L1840.68,736.59 L1842.00,737.19 L1843.32,737.79 L1844.64,738.38 L1845.96,738.98 L1847.28,739.57 L1848.60,740.17 L1849.92,740.76 L1851.24,741.36 L1852.56,741.96 L1853.88,742.55 L1855.20,743.15 L1856.52,743.74 L1857.84,744.34 L1859.16,744.93 L1860.48,745.53 L1861.80,746.12 L1863.12,746.72 L1864.44,747.31 L1865.76,747.91 L1867.08,748.50 L1868.40,749.10 L1869.72,749.69 L1871.04,750.29 L1872.36,750.88 L1873.68,751.47 L1875.00,752.07 L1876.32,752.66 L1877.64,753.26 L1878.96,753.85 L1880.28,754.45 L1881.60,755.04 L1882.92,755.63 L1884.24,756.23 L1885.56,756.82 L1886.88,757.42 L1888.21,758.01 L1889.53,758.60 L1890.85,759.20 L1892.17,759.79 L1893.49,760.38 L1894.81,760.98 L1896.13,761.57 L1897.45,762.16 L1898.77,762.76 L1900.09,763.35 L1901.41,763.94 L1902.73,764.54 L1904.05,765.13 L1905.37,765.72 L1906.69,766.32 L1908.01,766.91 L1909.33,767.50 L1910.65,768.10 L1911.97,768.69 L1913.29,769.28 L1914.61,769.87 L1915.93,770.47 L1917.25,771.06 L1918.57,771.65 L1919.89,772.25 L1921.21,772.84 L1922.53,773.43 L1923.85,774.02 L1925.17,774.62 L1926.49,775.21 L1927.81,775.80 L1929.13,776.39 L1930.45,776.99 L1931.77,777.58 L1933.09,778.17 L1934.41,778.76 L1935.73,779.35 L1937.05,779.95 L1938.37,780.54 L1939.69,781.13 L1941.01,781.72 L1942.33,782.31 L1943.65,782.91 L1944.97,783.50 L1946.29,784.09 L1947.61,784.68 L1948.93,785.27 L1950.26,785.87 L1951.58,786.46 L1952.90,787.05 L1954.22,787.64 L1955.54,788.23 L1956.86,788.82 L1958.18,789.42 L1959.50,790.01 L1960.82,790.60 L1962.14,791.19 L1963.46,791.78 L1964.78,792.37 L1966.10,792.97 L1967.42,793.56 L1968.74,794.15 L1970.06,794.74 L1971.38,795.33 L1972.70,795.92 L1974.02,796.51 L1975.34,797.11 L1976.66,797.70 L1977.98,798.29 L1979.30,798.88 L1980.62,799.47 L1981.94,800.06 L1983.26,800.65 L1984.58,801.24 L1985.90,801.84 L1987.22,802.43 L1988.54,803.02 L1989.86,803.61 L1991.18,804.20 L1992.50,804.79 L1993.82,805.38 L1995.14,805.97 L1996.46,806.56 L1997.78,807.15 L1999.10,807.75 L2000.42,808.34 L2001.74,808.93 L2003.06,809.52 L2004.38,810.11 L2005.70,810.70 L2007.02,811.29 L2008.34,811.88 L2009.66,812.47 L2010.98,813.06 L2012.31,813.65 L2013.63,814.24 L2014.95,814.83 L2016.27,815.43 L2017.59,816.02 L2018.91,816.61 L2020.23,817.20 L2021.55,817.79 L2022.87,818.38 L2024.19,818.97 L2025.51,819.56 L2026.83,820.15 L2028.15,820.74 L2029.47,821.33 L2030.79,821.92 L2032.11,822.51 L2033.43,823.10 L2034.75,823.69 L2036.07,824.28 L2037.39,824.87 L2038.71,825.46 L2040.03,826.06 L2041.35,826.65 L2042.67,827.24 L2043.99,827.83 L2045.31,828.42 L2046.63,829.01 L2047.95,829.60 L2049.27,830.19 L2050.59,830.78 L2051.91,831.37 L2053.23,831.96 L2054.55,832.55 L2055.87,833.14 L2057.19,833.73 L2058.51,834.32 L2059.83,834.91 L2061.15,835.50 L2062.47,836.09 L2063.79,836.68 L2065.11,837.27 L2066.43,837.86 L2067.75,838.45 L2069.07,839.04 L2070.39,839.63 L2071.71,840.22 L2073.04,840.81 L2074.36,841.40 L2075.68,841.99 L2077.00,842.58 L2078.32,843.17 L2079.64,843.76 L2080.96,844.35 L2082.28,844.94 L2083.60,845.53 L2084.92,846.12 L2086.24,846.71 L2087.56,847.30 L2088.88,847.89 L2090.20,848.48 L2091.52,849.07 L2092.84,849.66 L2094.16,850.25 L2095.48,850.84 L2096.80,851.43 L2098.12,852.02 L2099.44,852.61 L2100.76,853.20 L2102.08,853.79 L2103.40,854.38 L2104.72,854.97 L2106.04,855.56 L2107.36,856.15 L2108.68,856.74 L2110.00,857.33 L2111.32,857.92 L2112.64,858.51 L2113.96,859.10 L2115.28,859.69 L2116.60,860.28 L2117.92,860.87 L2119.24,861.46 L2120.56,862.05 L2121.88,862.64 L2123.20,863.23 L2124.52,863.82 L2125.84,864.41 L2127.16,865.00 L2128.48,865.59 L2129.80,866.18 L2131.12,866.77 L2132.44,867.36 L2133.76,867.95 L2135.09,868.54 L2136.41,869.13 L2137.73,869.72 L2139.05,870.31 L2140.37,870.90 L2141.69,871.49 L2143.01,872.08 L2144.33,872.67 L2145.65,873.26 L2146.97,873.85 L2148.29,874.44 L2149.61,875.03 L2150.93,875.62 L2152.25,876.20 L2153.57,876.79 L2154.89,877.38 L2156.21,877.97 L2157.53,878.56 L2158.85,879.15 L2160.17,879.74 L2161.49,880.33 L2162.81,880.92 L2164.13,881.51 L2165.45,882.10 L2166.77,882.69 L2168.09,883.28 L2169.41,883.87 L2170.73,884.46 L2172.05,885.05 L2173.37,885.64 L2174.69,886.23 L2176.01,886.82 L2177.33,887.41 L2178.65,888.00 L2179.97,888.59 L2181.29,889.18 L2182.61,889.77 L2183.93,890.36 L2185.25,890.95 L2186.57,891.54 L2187.89,892.13 L2189.21,892.71 L2190.53,893.30 L2191.85,893.89 L2193.17,894.48 L2194.49,895.07 L2195.81,895.66 L2197.14,896.25 L2198.46,896.84 L2199.78,897.43 L2201.10,898.02 L2202.42,898.61 L2203.74,899.20 L2205.06,899.79 L2206.38,900.38 L2207.70,900.97 L2209.02,901.56 L2210.34,902.15 L2211.66,902.74 L2212.98,903.33 L2214.30,903.92 L2215.62,904.51 L2216.94,905.10 L2218.26,905.69 L2219.58,906.27 L2220.90,906.86 L2222.22,907.45 L2223.54,908.04 L2224.86,908.63 L2226.18,909.22 L2227.50,909.81" stroke="#1A6EDC" stroke-dasharray="41 19 10 20" stroke-dashoffset="20.6"/>
<path d="M248.50,323.58 L249.82,324.17 L251.14,324.76 L252.46,325.35 L253.78,325.94 L255.10,326.53 L256.42,327.12 L257.74,327.71 L259.06,328.30 L260.38,328.89 L261.70,329.48 L263.02,330.07 L264.34,330.66 L265.66,331.25 L266.98,331.84 L268.30,332.43 L269.62,333.02 L270.94,333.61 L272.26,334.20 L273.58,334.79 L274.90,335.38 L276.22,335.97 L277.54,336.56 L278.86,337.15 L280.19,337.74 L281.51,338.33 L282.83,338.92 L284.15,339.51 L285.47,340.10 L286.79,340.69 L288.11,341.28 L289.43,341.87 L290.75,342.46 L292.07,343.05 L293.39,343.64 L294.71,344.23 L296.03,344.82 L297.35,345.41 L298.67,346.00 L299.99,346.59 L301.31,347.18 L302.63,347.77 L303.95,348.36 L305.27,348.95 L306.59,349.54 L307.91,350.13 L309.23,350.72 L310.55,351.31 L311.87,351.90 L313.19,352.49 L314.51,353.08 L315.83,353.67 L317.15,354.26 L318.47,354.85 L319.79,355.44 L321.11,356.03 L322.43,356.62 L323.75,357.21 L325.07,357.80 L326.39,358.39 L327.71,358.98 L329.03,359.57 L330.35,360.16 L331.67,360.75 L332.99,361.34 L334.31,361.93 L335.63,362.52 L336.95,363.11 L338.27,363.70 L339.59,364.29 L340.91,364.88 L342.24,365.47 L343.56,366.06 L344.88,366.66 L346.20,367.25 L347.52,367.84 L348.84,368.43 L350.16,369.02 L351.48,369.61 L352.80,370.20 L354.12,370.79 L355.44,371.38 L356.76,371.97 L358.08,372.56 L359.40,373.15 L360.72,373.74 L362.04,374.33 L363.36,374.92 L364.68,375.51 L366.00,376.10 L367.32,376.69 L368.64,377.28 L369.96,377.87 L371.28,378.47 L372.60,379.06 L373.92,379.65 L375.24,380.24 L376.56,380.83 L377.88,381.42 L379.20,382.01 L380.52,382.60 L381.84,383.19 L383.16,383.78 L384.48,384.37 L385.80,384.96 L387.12,385.55 L388.44,386.15 L389.76,386.74 L391.08,387.33 L392.40,387.92 L393.72,388.51 L395.04,389.10 L396.36,389.69 L397.68,390.28 L399.00,390.87 L400.32,391.46 L401.64,392.06 L402.96,392.65 L404.29,393.24 L405.61,393.83 L406.93,394.42 L408.25,395.01 L409.57,395.60 L410.89,396.19 L412.21,396.78 L413.53,397.38 L414.85,397.97 L416.17,398.56 L417.49,399.15 L418.81,399.74 L420.13,400.33 L421.45,400.92 L422.77,401.52 L424.09,402.11 L425.41,402.70 L426.73,403.29 L428.05,403.88 L429.37,404.47 L430.69,405.07 L432.01,405.66 L433.33,406.25 L434.65,406.84 L435.97,407.43 L437.29,408.02 L438.61,408.62 L439.93,409.21 L441.25,409.80 L442.57,410.39 L443.89,410.98 L445.21,411.57 L446.53,412.17 L447.85,412.76 L449.17,413.35 L450.49,413.94 L451.81,414.54 L453.13,415.13 L454.45,415.72 L455.77,416.31 L457.09,416.90 L458.41,417.50 L459.73,418.09 L461.05,418.68 L462.37,419.27 L463.69,419.87 L465.02,420.46 L466.34,421.05 L467.66,421.64 L468.98,422.24 L470.30,422.83 L471.62,423.42 L472.94,424.01 L474.26,424.61 L475.58,425.20 L476.90,425.79 L478.22,426.39 L479.54,426.98 L480.86,427.57 L482.18,428.16 L483.50,428.76 L484.82,429.35 L486.14,429.94 L487.46,430.54 L488.78,431.13 L490.10,431.72 L491.42,432.32 L492.74,432.91 L494.06,433.50 L495.38,434.10 L496.70,434.69 L498.02,435.29 L499.34,435.88 L500.66,436.47 L501.98,437.07 L503.30,437.66 L504.62,438.25 L505.94,438.85 L507.26,439.44 L508.58,440.04 L509.90,440.63 L511.22,441.22 L512.54,441.82 L513.86,442.41 L515.18,443.01 L516.50,443.60 L517.82,444.20 L519.14,444.79 L520.46,445.39 L521.78,445.98 L523.10,446.58 L524.42,447.17 L525.74,447.77 L527.07,448.36 L528.39,448.96 L529.71,449.55 L531.03,450.15 L532.35,450.74 L533.67,451.34 L534.99,451.93 L536.31,452.53 L537.63,453.12 L538.95,453.72 L540.27,454.31 L541.59,454.91 L542.91,455.51 L544.23,456.10 L545.55,456.70 L546.87,457.29 L548.19,457.89 L549.51,458.49 L550.83,459.08 L552.15,459.68 L553.47,460.28 L554.79,460.87 L556.11,461.47 L557.43,462.07 L558.75,462.66 L560.07,463.26 L561.39,463.86 L562.71,464.45 L564.03,465.05 L565.35,465.65 L566.67,466.25 L567.99,466.84 L569.31,467.44 L570.63,468.04 L571.95,468.64 L573.27,469.24 L574.59,469.83 L575.91,470.43 L577.23,471.03 L578.55,471.63 L579.87,472.23 L581.19,472.83 L582.51,473.43 L583.83,474.02 L585.15,474.62 L586.47,475.22 L587.79,475.82 L589.12,476.42 L590.44,477.02 L591.76,477.62 L593.08,478.22 L594.40,478.82 L595.72,479.42 L597.04,480.02 L598.36,480.62 L599.68,481.22 L601.00,481.82 L602.32,482.42 L603.64,483.02 L604.96,483.63 L606.28,484.23 L607.60,484.83 L608.92,485.43 L610.24,486.03 L611.56,486.63 L612.88,487.24 L614.20,487.84 L615.52,488.44 L616.84,489.04 L618.16,489.65 L619.48,490.25 L620.80,490.85 L622.12,491.45 L623.44,492.06 L624.76,492.66 L626.08,493.26 L627.40,493.87 L628.72,494.47 L630.04,495.08 L631.36,495.68 L632.68,496.29 L634.00,496.89 L635.32,497.50 L636.64,498.10 L637.96,498.71 L639.28,499.31 L640.60,499.92 L641.92,500.52 L643.24,501.13 L644.56,501.74 L645.88,502.34 L647.20,502.95 L648.52,503.56 L649.84,504.16 L651.17,504.77 L652.49,505.38 L653.81,505.99 L655.13,506.60 L656.45,507.20 L657.77,507.81 L659.09,508.42 L660.41,509.03 L661.73,509.64 L663.05,510.25 L664.37,510.86 L665.69,511.47 L667.01,512.08 L668.33,512.69 L669.65,513.30 L670.97,513.91 L672.29,514.52 L673.61,515.14 L674.93,515.75 L676.25,516.36 L677.57,516.97 L678.89,517.59 L680.21,518.20 L681.53,518.81 L682.85,519.43 L684.17,520.04 L685.49,520.66 L686.81,521.27 L688.13,521.89 L689.45,522.50 L690.77,523.12 L692.09,523.73 L693.41,524.35 L694.73,524.97 L696.05,525.58 L697.37,526.20 L698.69,526.82 L700.01,527.44 L701.33,528.06 L702.65,528.68 L703.97,529.29 L705.29,529.91 L706.61,530.53 L707.93,531.16 L709.25,531.78 L710.57,532.40 L711.89,533.02 L713.22,533.64 L714.54,534.26 L715.86,534.89 L717.18,535.51 L718.50,536.13 L719.82,536.76 L721.14,537.38 L722.46,538.01 L723.78,538.63 L725.10,539.26 L726.42,539.89 L727.74,540.51 L729.06,541.14 L730.38,541.77 L731.70,542.40 L733.02,543.03 L734.34,543.66 L735.66,544.29 L736.98,544.92 L738.30,545.55 L739.62,546.18 L740.94,546.81 L742.26,547.44 L743.58,548.08 L744.90,548.71 L746.22,549.35 L747.54,549.98 L748.86,550.62 L750.18,551.25 L751.50,551.89 L752.82,552.53 L754.14,553.17 L755.46,553.80 L756.78,554.44 L758.10,555.08 L759.42,555.72 L760.74,556.36 L762.06,557.01 L763.38,557.65 L764.70,558.29 L766.02,558.94 L767.34,559.58 L768.66,560.23 L769.98,560.87 L771.30,561.52 L772.62,562.17 L773.94,562.82 L775.27,563.47 L776.59,564.12 L777.91,564.77 L779.23,565.42 L780.55,566.07 L781.87,566.72 L783.19,567.38 L784.51,568.03 L785.83,568.69 L787.15,569.34 L788.47,570.00 L789.79,570.66 L791.11,571.32 L792.43,571.98 L793.75,572.64 L795.07,573.30 L796.39,573.97 L797.71,574.63 L799.03,575.29 L800.35,575.96 L801.67,576.63 L802.99,577.30 L804.31,577.96 L805.63,578.63 L806.95,579.31 L808.27,579.98 L809.59,580.65 L810.91,581.33 L812.23,582.00 L813.55,582.68 L814.87,583.36 L816.19,584.04 L817.51,584.72 L818.83,585.40 L820.15,586.08 L821.47,586.76 L822.79,587.45 L824.11,588.14 L825.43,588.82 L826.75,589.51 L828.07,590.20 L829.39,590.90 L830.71,591.59 L832.03,592.28 L833.35,592.98 L834.67,593.68 L835.99,594.38 L837.32,595.08 L838.64,595.78 L839.96,596.48 L841.28,597.19 L842.60,597.89 L843.92,598.60 L845.24,599.31 L846.56,600.02 L847.88,600.74 L849.20,601.45 L850.52,602.17 L851.84,602.89 L853.16,603.61 L854.48,604.33 L855.80,605.05 L857.12,605.78 L858.44,606.51 L859.76,607.24 L861.08,607.97 L862.40,608.70 L863.72,609.44 L865.04,610.17 L866.36,610.91 L867.68,611.66 L869.00,612.40 L870.32,613.15 L871.64,613.89 L872.96,614.64 L874.28,615.40 L875.60,616.15 L876.92,616.91 L878.24,617.67 L879.56,618.43 L880.88,619.20 L882.20,619.96 L883.52,620.73 L884.84,621.50 L886.16,622.28 L887.48,623.06 L888.80,623.84 L890.12,624.62 L891.44,625.41 L892.76,626.19 L894.08,626.99 L895.40,627.78 L896.72,628.58 L898.05,629.38 L899.37,630.18 L900.69,630.99 L902.01,631.80 L903.33,632.61 L904.65,633.43 L905.97,634.25 L907.29,635.07 L908.61,635.90 L909.93,636.73 L911.25,637.56 L912.57,638.40 L913.89,639.24 L915.21,640.09 L916.53,640.93 L917.85,641.79 L919.17,642.64 L920.49,643.50 L921.81,644.37 L923.13,645.24 L924.45,646.11 L925.77,646.99 L927.09,647.87 L928.41,648.76 L929.73,649.65 L931.05,650.55 L932.37,651.45 L933.69,652.35 L935.01,653.26 L936.33,654.18 L937.65,655.10 L938.97,656.03 L940.29,656.96 L941.61,657.90 L942.93,658.84 L944.25,659.79 L945.57,660.74 L946.89,661.70 L948.21,662.66 L949.53,663.64 L950.85,664.61 L952.17,665.60 L953.49,666.59 L954.81,667.59 L956.13,668.59 L957.45,669.60 L958.77,670.62 L960.10,671.65 L961.42,672.68 L962.74,673.72 L964.06,674.77 L965.38,675.82 L966.70,676.89 L968.02,677.96 L969.34,679.04 L970.66,680.12 L971.98,681.22 L973.30,682.33 L974.62,683.44 L975.94,684.57 L977.26,685.70 L978.58,686.84 L979.90,687.99 L981.22,689.16 L982.54,690.33 L983.86,691.51 L985.18,692.71 L986.50,693.91 L987.82,695.13 L989.14,696.36 L990.46,697.60 L991.78,698.85 L993.10,700.11 L994.42,701.39 L995.74,702.68 L997.06,703.98 L998.38,705.30 L999.70,706.63 L1001.02,707.97 L1002.34,709.33 L1003.66,710.70 L1004.98,712.09 L1006.30,713.49 L1007.62,714.91 L1008.94,716.35 L1010.26,717.80 L1011.58,719.27 L1012.90,720.76 L1014.22,722.27 L1015.54,723.79 L1016.86,725.33 L1018.18,726.89 L1019.50,728.47 L1020.82,730.08 L1022.15,731.70 L1023.47,733.34 L1024.79,735.00 L1026.11,736.69 L1027.43,738.40 L1028.75,740.13 L1030.07,741.88 L1031.39,743.66 L1032.71,745.46 L1034.03,747.29 L1035.35,749.14 L1036.67,751.01 L1037.99,752.91 L1039.31,754.83 L1040.63,756.78 L1041.95,758.75 L1043.27,760.75 L1044.59,762.77 L1045.91,764.82 L1047.23,766.88 L1048.55,768.97 L1049.87,771.08 L1051.19,773.20 L1052.51,775.34 L1053.83,777.50 L1055.15,779.66 L1056.47,781.84 L1057.79,784.02 L1059.11,786.21 L1060.43,788.39 L1061.75,790.56 L1063.07,792.73 L1064.39,794.88 L1065.71,797.01 L1067.03,799.11 L1068.35,801.17 L1069.67,803.19 L1070.99,805.16 L1072.31,807.07 L1073.63,808.92 L1074.95,810.68 L1076.27,812.35 L1077.59,813.92 L1078.91,815.37 L1080.23,816.70 L1081.55,817.89 L1082.87,818.92 L1084.20,819.80 L1085.52,820.50 L1086.84,821.01 L1088.16,821.34 L1089.48,821.47 L1090.80,821.40 L1092.12,821.14 L1093.44,820.68 L1094.76,820.03 L1096.08,819.19" stroke="#EE3E42" stroke-dasharray="35.2 36.2" stroke-dashoffset="43.2"/>
<path d="M1096.08,819.19 L1097.40,818.18 L1098.72,817.01 L1100.04,815.69 L1101.36,814.22 L1102.68,812.63 L1104.00,810.92 L1105.32,809.11 L1106.64,807.21 L1107.96,805.23 L1109.28,803.17 L1110.60,801.06 L1111.92,798.89 L1113.24,796.69 L1114.56,794.44 L1115.88,792.17 L1117.20,789.88 L1118.52,787.57 L1119.84,785.25 L1121.16,782.92 L1122.48,780.59 L1123.80,778.26 L1125.12,775.94 L1126.44,773.63 L1127.76,771.33 L1129.08,769.04 L1130.40,766.77 L1131.72,764.52 L1133.04,762.29 L1134.36,760.07 L1135.68,757.88 L1137.00,755.72 L1138.32,753.57 L1139.64,751.45 L1140.96,749.35 L1142.28,747.28 L1143.60,745.23 L1144.92,743.21 L1146.25,741.21 L1147.57,739.23 L1148.89,737.28 L1150.21,735.35 L1151.53,733.44 L1152.85,731.55 L1154.17,729.69 L1155.49,727.85 L1156.81,726.03 L1158.13,724.23 L1159.45,722.45 L1160.77,720.68 L1162.09,718.94 L1163.41,717.22 L1164.73,715.52 L1166.05,713.83 L1167.37,712.16 L1168.69,710.51 L1170.01,708.87 L1171.33,707.25 L1172.65,705.65 L1173.97,704.06 L1175.29,702.48 L1176.61,700.93 L1177.93,699.38 L1179.25,697.85 L1180.57,696.33 L1181.89,694.83 L1183.21,693.33 L1184.53,691.85 L1185.85,690.39 L1187.17,688.93 L1188.49,687.49 L1189.81,686.05 L1191.13,684.63 L1192.45,683.22 L1193.77,681.82 L1195.09,680.43 L1196.41,679.05 L1197.73,677.68 L1199.05,676.31 L1200.37,674.96 L1201.69,673.62 L1203.01,672.28 L1204.33,670.96 L1205.65,669.64 L1206.97,668.33 L1208.30,667.03 L1209.62,665.73 L1210.94,664.45 L1212.26,663.17 L1213.58,661.90 L1214.90,660.63 L1216.22,659.37 L1217.54,658.12 L1218.86,656.88 L1220.18,655.64 L1221.50,654.41 L1222.82,653.19 L1224.14,651.97 L1225.46,650.76 L1226.78,649.55 L1228.10,648.35 L1229.42,647.16 L1230.74,645.97 L1232.06,644.79 L1233.38,643.61 L1234.70,642.44 L1236.02,641.28 L1237.34,640.12 L1238.66,638.96 L1239.98,637.82 L1241.30,636.67 L1242.62,635.53 L1243.94,634.40 L1245.26,633.27 L1246.58,632.15 L1247.90,631.04 L1249.22,629.93 L1250.54,628.82 L1251.86,627.72 L1253.18,626.62 L1254.50,625.53 L1255.82,624.45 L1257.14,623.37 L1258.46,622.30 L1259.78,621.23 L1261.10,620.17 L1262.42,619.12 L1263.74,618.07 L1265.06,617.03 L1266.38,615.99 L1267.70,614.96 L1269.03,613.93 L1270.35,612.92 L1271.67,611.91 L1272.99,610.90 L1274.31,609.91 L1275.63,608.92 L1276.95,607.94 L1278.27,606.96 L1279.59,606.00 L1280.91,605.04 L1282.23,604.09 L1283.55,603.15 L1284.87,602.21 L1286.19,601.29 L1287.51,600.38 L1288.83,599.47 L1290.15,598.58 L1291.47,597.69 L1292.79,596.82 L1294.11,595.95 L1295.43,595.10 L1296.75,594.26 L1298.07,593.43 L1299.39,592.61 L1300.71,591.81 L1302.03,591.02 L1303.35,590.24 L1304.67,589.47 L1305.99,588.72 L1307.31,587.98 L1308.63,587.26 L1309.95,586.56 L1311.27,585.86 L1312.59,585.19 L1313.91,584.53 L1315.23,583.88 L1316.55,583.26 L1317.87,582.65 L1319.19,582.06 L1320.51,581.49 L1321.83,580.93 L1323.15,580.40 L1324.47,579.88 L1325.79,579.38 L1327.11,578.91 L1328.43,578.45 L1329.75,578.01 L1331.08,577.60 L1332.40,577.20 L1333.72,576.83 L1335.04,576.48 L1336.36,576.15 L1337.68,575.84 L1339.00,575.55 L1340.32,575.29 L1341.64,575.05 L1342.96,574.83 L1344.28,574.64 L1345.60,574.46 L1346.92,574.31 L1348.24,574.19 L1349.56,574.08 L1350.88,574.00 L1352.20,573.94 L1353.52,573.90 L1354.84,573.89 L1356.16,573.90 L1357.48,573.93 L1358.80,573.98 L1360.12,574.06 L1361.44,574.15 L1362.76,574.27 L1364.08,574.41 L1365.40,574.57 L1366.72,574.75 L1368.04,574.95 L1369.36,575.17 L1370.68,575.41 L1372.00,575.67 L1373.32,575.95 L1374.64,576.25 L1375.96,576.56 L1377.28,576.90 L1378.60,577.25 L1379.92,577.61 L1381.24,578.00 L1382.56,578.39 L1383.88,578.81 L1385.20,579.24 L1386.52,579.68 L1387.84,580.14 L1389.16,580.62 L1390.48,581.10 L1391.80,581.60 L1393.13,582.11 L1394.45,582.64 L1395.77,583.17 L1397.09,583.72 L1398.41,584.28 L1399.73,584.84 L1401.05,585.42 L1402.37,586.01 L1403.69,586.61 L1405.01,587.21 L1406.33,587.83 L1407.65,588.45 L1408.97,589.08 L1410.29,589.72 L1411.61,590.36 L1412.93,591.01 L1414.25,591.67 L1415.57,592.34 L1416.89,593.01 L1418.21,593.68 L1419.53,594.36 L1420.85,595.05 L1422.17,595.74 L1423.49,596.43 L1424.81,597.13 L1426.13,597.84 L1427.45,598.54 L1428.77,599.25 L1430.09,599.97 L1431.41,600.68 L1432.73,601.40 L1434.05,602.13 L1435.37,602.85 L1436.69,603.58 L1438.01,604.31 L1439.33,605.04 L1440.65,605.77 L1441.97,606.51 L1443.29,607.25 L1444.61,607.98 L1445.93,608.72 L1447.25,609.46 L1448.57,610.21 L1449.89,610.95 L1451.21,611.69 L1452.53,612.43 L1453.85,613.18 L1455.18,613.92 L1456.50,614.67 L1457.82,615.41 L1459.14,616.16 L1460.46,616.91 L1461.78,617.65 L1463.10,618.40 L1464.42,619.14 L1465.74,619.89 L1467.06,620.63 L1468.38,621.38 L1469.70,622.12 L1471.02,622.87 L1472.34,623.61 L1473.66,624.35 L1474.98,625.10 L1476.30,625.84 L1477.62,626.58 L1478.94,627.32 L1480.26,628.06 L1481.58,628.80 L1482.90,629.54 L1484.22,630.28 L1485.54,631.01 L1486.86,631.75 L1488.18,632.49 L1489.50,633.22 L1490.82,633.95 L1492.14,634.69 L1493.46,635.42 L1494.78,636.15 L1496.10,636.88 L1497.42,637.61 L1498.74,638.33 L1500.06,639.06 L1501.38,639.78 L1502.70,640.51 L1504.02,641.23 L1505.34,641.95 L1506.66,642.68 L1507.98,643.39 L1509.30,644.11 L1510.62,644.83 L1511.94,645.55 L1513.26,646.26 L1514.58,646.98 L1515.90,647.69 L1517.23,648.40 L1518.55,649.11 L1519.87,649.82 L1521.19,650.53 L1522.51,651.24 L1523.83,651.95 L1525.15,652.65 L1526.47,653.36 L1527.79,654.06 L1529.11,654.76 L1530.43,655.46 L1531.75,656.16 L1533.07,656.86 L1534.39,657.56 L1535.71,658.26 L1537.03,658.95 L1538.35,659.65 L1539.67,660.34 L1540.99,661.03 L1542.31,661.72 L1543.63,662.41 L1544.95,663.10 L1546.27,663.79 L1547.59,664.48 L1548.91,665.17 L1550.23,665.85 L1551.55,666.53 L1552.87,667.22 L1554.19,667.90 L1555.51,668.58 L1556.83,669.26 L1558.15,669.94 L1559.47,670.62 L1560.79,671.30 L1562.11,671.97 L1563.43,672.65 L1564.75,673.32 L1566.07,673.99 L1567.39,674.67 L1568.71,675.34 L1570.03,676.01 L1571.35,676.68 L1572.67,677.35 L1573.99,678.02 L1575.31,678.68 L1576.63,679.35 L1577.95,680.01 L1579.28,680.68 L1580.60,681.34 L1581.92,682.01 L1583.24,682.67 L1584.56,683.33 L1585.88,683.99 L1587.20,684.65 L1588.52,685.31 L1589.84,685.97 L1591.16,686.62 L1592.48,687.28 L1593.80,687.93 L1595.12,688.59 L1596.44,689.24 L1597.76,689.90 L1599.08,690.55 L1600.40,691.20 L1601.72,691.85 L1603.04,692.50 L1604.36,693.15 L1605.68,693.80 L1607.00,694.45 L1608.32,695.10 L1609.64,695.75 L1610.96,696.39 L1612.28,697.04 L1613.60,697.68 L1614.92,698.33 L1616.24,698.97 L1617.56,699.61 L1618.88,700.26 L1620.20,700.90 L1621.52,701.54 L1622.84,702.18 L1624.16,702.82 L1625.48,703.46 L1626.80,704.10 L1628.12,704.74 L1629.44,705.37 L1630.76,706.01 L1632.08,706.65 L1633.40,707.28 L1634.72,707.92 L1636.04,708.55 L1637.36,709.19 L1638.68,709.82 L1640.01,710.46 L1641.33,711.09 L1642.65,711.72 L1643.97,712.35 L1645.29,712.98 L1646.61,713.61 L1647.93,714.25 L1649.25,714.88 L1650.57,715.50 L1651.89,716.13 L1653.21,716.76 L1654.53,717.39 L1655.85,718.02 L1657.17,718.64 L1658.49,719.27 L1659.81,719.90 L1661.13,720.52 L1662.45,721.15 L1663.77,721.77 L1665.09,722.40 L1666.41,723.02 L1667.73,723.64 L1669.05,724.27 L1670.37,724.89 L1671.69,725.51 L1673.01,726.13 L1674.33,726.76 L1675.65,727.38 L1676.97,728.00 L1678.29,728.62 L1679.61,729.24 L1680.93,729.86 L1682.25,730.48 L1683.57,731.10 L1684.89,731.71 L1686.21,732.33 L1687.53,732.95 L1688.85,733.57 L1690.17,734.19 L1691.49,734.80 L1692.81,735.42 L1694.13,736.03 L1695.45,736.65 L1696.77,737.27 L1698.09,737.88 L1699.41,738.50 L1700.73,739.11 L1702.06,739.73 L1703.38,740.34 L1704.70,740.95 L1706.02,741.57 L1707.34,742.18 L1708.66,742.79 L1709.98,743.40 L1711.30,744.02 L1712.62,744.63 L1713.94,745.24 L1715.26,745.85 L1716.58,746.46 L1717.90,747.07 L1719.22,747.69 L1720.54,748.30 L1721.86,748.91 L1723.18,749.52 L1724.50,750.13 L1725.82,750.73 L1727.14,751.34 L1728.46,751.95 L1729.78,752.56 L1731.10,753.17 L1732.42,753.78 L1733.74,754.39 L1735.06,754.99 L1736.38,755.60 L1737.70,756.21 L1739.02,756.82 L1740.34,757.42 L1741.66,758.03 L1742.98,758.64 L1744.30,759.24 L1745.62,759.85 L1746.94,760.45 L1748.26,761.06 L1749.58,761.67 L1750.90,762.27 L1752.22,762.88 L1753.54,763.48 L1754.86,764.08 L1756.18,764.69 L1757.50,765.29 L1758.82,765.90 L1760.14,766.50 L1761.46,767.11 L1762.78,767.71 L1764.11,768.31 L1765.43,768.92 L1766.75,769.52 L1768.07,770.12 L1769.39,770.72 L1770.71,771.33 L1772.03,771.93 L1773.35,772.53 L1774.67,773.13 L1775.99,773.74 L1777.31,774.34 L1778.63,774.94 L1779.95,775.54 L1781.27,776.14 L1782.59,776.74 L1783.91,777.34 L1785.23,777.95 L1786.55,778.55 L1787.87,779.15 L1789.19,779.75 L1790.51,780.35 L1791.83,780.95 L1793.15,781.55 L1794.47,782.15 L1795.79,782.75 L1797.11,783.35 L1798.43,783.95 L1799.75,784.55 L1801.07,785.15 L1802.39,785.75 L1803.71,786.34 L1805.03,786.94 L1806.35,787.54 L1807.67,788.14 L1808.99,788.74 L1810.31,789.34 L1811.63,789.94 L1812.95,790.53 L1814.27,791.13 L1815.59,791.73 L1816.91,792.33 L1818.23,792.93 L1819.55,793.52 L1820.87,794.12 L1822.19,794.72 L1823.51,795.32 L1824.83,795.91 L1826.16,796.51 L1827.48,797.11 L1828.80,797.71 L1830.12,798.30 L1831.44,798.90 L1832.76,799.50 L1834.08,800.09 L1835.40,800.69 L1836.72,801.29 L1838.04,801.88 L1839.36,802.48 L1840.68,803.08 L1842.00,803.67 L1843.32,804.27 L1844.64,804.86 L1845.96,805.46 L1847.28,806.06 L1848.60,806.65 L1849.92,807.25 L1851.24,807.84 L1852.56,808.44 L1853.88,809.03 L1855.20,809.63 L1856.52,810.22 L1857.84,810.82 L1859.16,811.41 L1860.48,812.01 L1861.80,812.60 L1863.12,813.20 L1864.44,813.79 L1865.76,814.39 L1867.08,814.98 L1868.40,815.58 L1869.72,816.17 L1871.04,816.77 L1872.36,817.36 L1873.68,817.96 L1875.00,818.55 L1876.32,819.15 L1877.64,819.74 L1878.96,820.33 L1880.28,820.93 L1881.60,821.52 L1882.92,822.12 L1884.24,822.71 L1885.56,823.30 L1886.88,823.90 L1888.21,824.49 L1889.53,825.09 L1890.85,825.68 L1892.17,826.27 L1893.49,826.87 L1894.81,827.46 L1896.13,828.05 L1897.45,828.65 L1898.77,829.24 L1900.09,829.83 L1901.41,830.43 L1902.73,831.02 L1904.05,831.61 L1905.37,832.21 L1906.69,832.80 L1908.01,833.39 L1909.33,833.99 L1910.65,834.58 L1911.97,835.17 L1913.29,835.76 L1914.61,836.36 L1915.93,836.95 L1917.25,837.54 L1918.57,838.14 L1919.89,838.73 L1921.21,839.32 L1922.53,839.91 L1923.85,840.51 L1925.17,841.10 L1926.49,841.69 L1927.81,842.28 L1929.13,842.88 L1930.45,843.47 L1931.77,844.06 L1933.09,844.65 L1934.41,845.24 L1935.73,845.84 L1937.05,846.43 L1938.37,847.02 L1939.69,847.61 L1941.01,848.21 L1942.33,848.80 L1943.65,849.39 L1944.97,849.98 L1946.29,850.57 L1947.61,851.16 L1948.93,851.76 L1950.26,852.35 L1951.58,852.94 L1952.90,853.53 L1954.22,854.12 L1955.54,854.72 L1956.86,855.31 L1958.18,855.90 L1959.50,856.49 L1960.82,857.08 L1962.14,857.67 L1963.46,858.27 L1964.78,858.86 L1966.10,859.45 L1967.42,860.04 L1968.74,860.63 L1970.06,861.22 L1971.38,861.81 L1972.70,862.41 L1974.02,863.00 L1975.34,863.59 L1976.66,864.18 L1977.98,864.77 L1979.30,865.36 L1980.62,865.95 L1981.94,866.54 L1983.26,867.14 L1984.58,867.73 L1985.90,868.32 L1987.22,868.91 L1988.54,869.50 L1989.86,870.09 L1991.18,870.68 L1992.50,871.27 L1993.82,871.86 L1995.14,872.45 L1996.46,873.05 L1997.78,873.64 L1999.10,874.23 L2000.42,874.82 L2001.74,875.41 L2003.06,876.00 L2004.38,876.59 L2005.70,877.18 L2007.02,877.77 L2008.34,878.36 L2009.66,878.95 L2010.98,879.55 L2012.31,880.14 L2013.63,880.73 L2014.95,881.32 L2016.27,881.91 L2017.59,882.50 L2018.91,883.09 L2020.23,883.68 L2021.55,884.27 L2022.87,884.86 L2024.19,885.45 L2025.51,886.04 L2026.83,886.63 L2028.15,887.22 L2029.47,887.81 L2030.79,888.40 L2032.11,888.99 L2033.43,889.59 L2034.75,890.18 L2036.07,890.77 L2037.39,891.36 L2038.71,891.95 L2040.03,892.54 L2041.35,893.13 L2042.67,893.72 L2043.99,894.31 L2045.31,894.90 L2046.63,895.49 L2047.95,896.08 L2049.27,896.67 L2050.59,897.26 L2051.91,897.85 L2053.23,898.44 L2054.55,899.03 L2055.87,899.62 L2057.19,900.21 L2058.51,900.80 L2059.83,901.39 L2061.15,901.98 L2062.47,902.57 L2063.79,903.16 L2065.11,903.75 L2066.43,904.34 L2067.75,904.93 L2069.07,905.52 L2070.39,906.11 L2071.71,906.70 L2073.04,907.29 L2074.36,907.88 L2075.68,908.47 L2077.00,909.06 L2078.32,909.65 L2079.64,910.24 L2080.96,910.83 L2082.28,911.42 L2083.60,912.01 L2084.92,912.60 L2086.24,913.19 L2087.56,913.78 L2088.88,914.37 L2090.20,914.96 L2091.52,915.55 L2092.84,916.14 L2094.16,916.73 L2095.48,917.32 L2096.80,917.91 L2098.12,918.50 L2099.44,919.09 L2100.76,919.68 L2102.08,920.27 L2103.40,920.86 L2104.72,921.45 L2106.04,922.04 L2107.36,922.63 L2108.68,923.22 L2110.00,923.81 L2111.32,924.40 L2112.64,924.99 L2113.96,925.58 L2115.28,926.17 L2116.60,926.76 L2117.92,927.35 L2119.24,927.94 L2120.56,928.53 L2121.88,929.12 L2123.20,929.71 L2124.52,930.30 L2125.84,930.89 L2127.16,931.48 L2128.48,932.07 L2129.80,932.66 L2131.12,933.25 L2132.44,933.84 L2133.76,934.43 L2135.09,935.02 L2136.41,935.61 L2137.73,936.20 L2139.05,936.79 L2140.37,937.38 L2141.69,937.97 L2143.01,938.56 L2144.33,939.15 L2145.65,939.74 L2146.97,940.33 L2148.29,940.92 L2149.61,941.51 L2150.93,942.10 L2152.25,942.69 L2153.57,943.28 L2154.89,943.87 L2156.21,944.46 L2157.53,945.05 L2158.85,945.64 L2160.17,946.23 L2161.49,946.82 L2162.81,947.40 L2164.13,947.99 L2165.45,948.58 L2166.77,949.17 L2168.09,949.76 L2169.41,950.35 L2170.73,950.94 L2172.05,951.53 L2173.37,952.12 L2174.69,952.71 L2176.01,953.30 L2177.33,953.89 L2178.65,954.48 L2179.97,955.07 L2181.29,955.66 L2182.61,956.25 L2183.93,956.84 L2185.25,957.43 L2186.57,958.02 L2187.89,958.61 L2189.21,959.20 L2190.53,959.79 L2191.85,960.38 L2193.17,960.97 L2194.49,961.56 L2195.81,962.15 L2197.14,962.73 L2198.46,963.32 L2199.78,963.91 L2201.10,964.50 L2202.42,965.09 L2203.74,965.68 L2205.06,966.27 L2206.38,966.86 L2207.70,967.45 L2209.02,968.04 L2210.34,968.63 L2211.66,969.22 L2212.98,969.81 L2214.30,970.40 L2215.62,970.99 L2216.94,971.58 L2218.26,972.17 L2219.58,972.76 L2220.90,973.35 L2222.22,973.94 L2223.54,974.53 L2224.86,975.12 L2226.18,975.70 L2227.50,976.29" stroke="#EE3E42" stroke-dasharray="35.2 36.2" stroke-dashoffset="51.0"/>
</g>
<rect x="245" y="67" width="5" height="889" fill="#000"/>
<rect x="2224.25" y="67" width="5.5" height="889" fill="#000"/>
<rect x="245" y="67" width="1984.75" height="6" fill="#000"/>
<rect x="245" y="951" width="1984.75" height="5" fill="#000"/>
<rect x="250" y="67.50" width="21" height="5" fill="#000"/>
<rect x="250" y="105.00" width="10" height="5" fill="#000"/>
<rect x="250" y="142.00" width="10" height="5" fill="#000"/>
<rect x="250" y="179.00" width="10" height="5" fill="#000"/>
<rect x="250" y="216.00" width="10" height="5" fill="#000"/>
<rect x="250" y="252.00" width="10" height="5" fill="#000"/>
<rect x="250" y="290.00" width="21" height="5" fill="#000"/>
<rect x="250" y="326.00" width="10" height="5" fill="#000"/>
<rect x="250" y="363.00" width="10" height="5" fill="#000"/>
<rect x="250" y="400.00" width="10" height="5" fill="#000"/>
<rect x="250" y="436.00" width="10" height="5" fill="#000"/>
<rect x="250" y="473.00" width="10" height="5" fill="#000"/>
<rect x="250" y="510.00" width="21" height="5" fill="#000"/>
<rect x="250" y="547.00" width="10" height="5" fill="#000"/>
<rect x="250" y="584.00" width="10" height="5" fill="#000"/>
<rect x="250" y="620.00" width="10" height="5" fill="#000"/>
<rect x="250" y="657.00" width="10" height="5" fill="#000"/>
<rect x="250" y="694.00" width="10" height="5" fill="#000"/>
<rect x="250" y="731.30" width="21" height="5" fill="#000"/>
<rect x="250" y="768.00" width="10" height="5" fill="#000"/>
<rect x="250" y="804.00" width="10" height="5" fill="#000"/>
<rect x="250" y="841.00" width="10" height="5" fill="#000"/>
<rect x="250" y="878.00" width="10" height="5" fill="#000"/>
<rect x="250" y="915.00" width="10" height="5" fill="#000"/>
<rect x="250" y="951.00" width="21" height="5" fill="#000"/>
<rect x="246.00" y="931.5" width="5" height="19.5" fill="#000"/>
<rect x="394.93" y="942.5" width="5" height="8.5" fill="#000"/>
<rect x="482.06" y="942.5" width="5" height="8.5" fill="#000"/>
<rect x="543.87" y="942.5" width="5" height="8.5" fill="#000"/>
<rect x="591.82" y="942.5" width="5" height="8.5" fill="#000"/>
<rect x="630.99" y="942.5" width="5" height="8.5" fill="#000"/>
<rect x="664.11" y="942.5" width="5" height="8.5" fill="#000"/>
<rect x="692.80" y="942.5" width="5" height="8.5" fill="#000"/>
<rect x="718.11" y="942.5" width="5" height="8.5" fill="#000"/>
<rect x="741.00" y="931.5" width="5" height="19.5" fill="#000"/>
<rect x="889.68" y="942.5" width="5" height="8.5" fill="#000"/>
<rect x="976.81" y="942.5" width="5" height="8.5" fill="#000"/>
<rect x="1038.62" y="942.5" width="5" height="8.5" fill="#000"/>
<rect x="1086.57" y="942.5" width="5" height="8.5" fill="#000"/>
<rect x="1125.74" y="942.5" width="5" height="8.5" fill="#000"/>
<rect x="1158.86" y="942.5" width="5" height="8.5" fill="#000"/>
<rect x="1187.55" y="942.5" width="5" height="8.5" fill="#000"/>
<rect x="1212.86" y="942.5" width="5" height="8.5" fill="#000"/>
<rect x="1235.00" y="931.5" width="5" height="19.5" fill="#000"/>
<rect x="1384.43" y="942.5" width="5" height="8.5" fill="#000"/>
<rect x="1471.56" y="942.5" width="5" height="8.5" fill="#000"/>
<rect x="1533.37" y="942.5" width="5" height="8.5" fill="#000"/>
<rect x="1581.32" y="942.5" width="5" height="8.5" fill="#000"/>
<rect x="1620.49" y="942.5" width="5" height="8.5" fill="#000"/>
<rect x="1653.61" y="942.5" width="5" height="8.5" fill="#000"/>
<rect x="1682.30" y="942.5" width="5" height="8.5" fill="#000"/>
<rect x="1707.61" y="942.5" width="5" height="8.5" fill="#000"/>
<rect x="1730.50" y="931.5" width="5" height="19.5" fill="#000"/>
<rect x="1879.18" y="942.5" width="5" height="8.5" fill="#000"/>
<rect x="1966.31" y="942.5" width="5" height="8.5" fill="#000"/>
<rect x="2028.12" y="942.5" width="5" height="8.5" fill="#000"/>
<rect x="2076.07" y="942.5" width="5" height="8.5" fill="#000"/>
<rect x="2115.24" y="942.5" width="5" height="8.5" fill="#000"/>
<rect x="2148.36" y="942.5" width="5" height="8.5" fill="#000"/>
<rect x="2177.05" y="942.5" width="5" height="8.5" fill="#000"/>
<rect x="2202.36" y="942.5" width="5" height="8.5" fill="#000"/>
<text transform="translate(224.00,88.60) scale(1,1.04)" font-size="64" text-anchor="end">40</text>
<text transform="translate(224.00,311.10) scale(1,1.04)" font-size="64" text-anchor="end">20</text>
<text transform="translate(224.00,531.10) scale(1,1.04)" font-size="64" text-anchor="end">0</text>
<text transform="translate(224.00,752.40) scale(1,1.04)" font-size="64" text-anchor="end">-20</text>
<text transform="translate(224.00,972.10) scale(1,1.04)" font-size="64" text-anchor="end">-40</text>
<text transform="translate(248.50,1035.00) scale(1,1.04)" font-size="64" text-anchor="middle">10<tspan font-size="43" dy="-25">0</tspan></text>
<text transform="translate(743.50,1035.00) scale(1,1.04)" font-size="64" text-anchor="middle">10<tspan font-size="43" dy="-25">1</tspan></text>
<text transform="translate(1237.50,1035.00) scale(1,1.04)" font-size="64" text-anchor="middle">10<tspan font-size="43" dy="-25">2</tspan></text>
<text transform="translate(1733.00,1035.00) scale(1,1.04)" font-size="64" text-anchor="middle">10<tspan font-size="43" dy="-25">3</tspan></text>
<text transform="translate(2227.00,1035.00) scale(1,1.04)" font-size="64" text-anchor="middle">10<tspan font-size="43" dy="-25">4</tspan></text>
<text x="1238" y="1099" font-size="52" text-anchor="middle" textLength="329" lengthAdjust="spacing">Frequency / Hz</text>
<text transform="translate(79.8,477) rotate(-90)" font-size="52" text-anchor="middle" textLength="314.5" lengthAdjust="spacing">Amplitude /dB</text>
<rect x="1851" y="132" width="144" height="8" fill="#505050"/>
<path d="M1851,227 H1892 M1911,227 H1921 M1941,227 H1982" stroke="#1A6EDC" stroke-width="8"/>
<path d="M1851,318 H1886 M1922,318 H1957" stroke="#EE3E42" stroke-width="8"/>
<text transform="translate(2008,156.8) scale(1,1.03)" font-size="64"><tspan font-style="italic">K</tspan><tspan font-size="45" dy="17.4">p</tspan><tspan dy="-17.4">=30</tspan></text>
<text transform="translate(2008,247.8) scale(1,1.03)" font-size="64"><tspan font-style="italic">K</tspan><tspan font-size="45" dy="17.4">p</tspan><tspan dy="-17.4">=15</tspan></text>
<text transform="translate(2008,338.8) scale(1,1.03)" font-size="64"><tspan font-style="italic">K</tspan><tspan font-size="45" dy="17.4">p</tspan><tspan dy="-17.4">=5</tspan></text>
<line x1="728.5" y1="1162" x2="728.5" y2="2036" stroke="#009CFF" stroke-width="5" stroke-dasharray="7 16.36"/>
<line x1="1223.0" y1="1162" x2="1223.0" y2="2036" stroke="#009CFF" stroke-width="5" stroke-dasharray="7 16.36"/>
<line x1="1718.5" y1="1162" x2="1718.5" y2="2036" stroke="#009CFF" stroke-width="5" stroke-dasharray="7 16.36"/>
<line x1="232.9" y1="1238.50" x2="2205" y2="1238.50" stroke="#009CFF" stroke-width="5" stroke-dasharray="7 16.55"/>
<line x1="232.9" y1="1326.50" x2="2205" y2="1326.50" stroke="#009CFF" stroke-width="5" stroke-dasharray="7 16.55"/>
<line x1="232.9" y1="1414.50" x2="2205" y2="1414.50" stroke="#009CFF" stroke-width="5" stroke-dasharray="7 16.55"/>
<line x1="232.9" y1="1503.50" x2="2205" y2="1503.50" stroke="#009CFF" stroke-width="5" stroke-dasharray="7 16.55"/>
<line x1="232.9" y1="1591.50" x2="2205" y2="1591.50" stroke="#009CFF" stroke-width="5" stroke-dasharray="7 16.55"/>
<line x1="232.9" y1="1679.50" x2="2205" y2="1679.50" stroke="#009CFF" stroke-width="5" stroke-dasharray="7 16.55"/>
<line x1="232.9" y1="1768.50" x2="2205" y2="1768.50" stroke="#009CFF" stroke-width="5" stroke-dasharray="7 16.55"/>
<line x1="232.9" y1="1856.50" x2="2205" y2="1856.50" stroke="#009CFF" stroke-width="5" stroke-dasharray="7 16.55"/>
<line x1="232.9" y1="1944.50" x2="2205" y2="1944.50" stroke="#009CFF" stroke-width="5" stroke-dasharray="7 16.55"/>
<clipPath id="cb"><rect x="233.5" y="1149.5" width="1979.5" height="883.5"/></clipPath>
<g clip-path="url(#cb)" fill="none" stroke-width="9" stroke-linejoin="round" shape-rendering="crispEdges">
<path d="M233.50,1988.80 L234.82,1988.80 L236.14,1988.80 L237.46,1988.80 L238.78,1988.80 L240.10,1988.80 L241.42,1988.80 L242.74,1988.80 L244.06,1988.80 L245.38,1988.80 L246.71,1988.80 L248.03,1988.80 L249.35,1988.80 L250.67,1988.80 L251.99,1988.80 L253.31,1988.80 L254.63,1988.80 L255.95,1988.80 L257.27,1988.80 L258.59,1988.80 L259.91,1988.80 L261.23,1988.80 L262.55,1988.80 L263.87,1988.80 L265.19,1988.80 L266.51,1988.80 L267.83,1988.80 L269.15,1988.80 L270.48,1988.80 L271.80,1988.80 L273.12,1988.80 L274.44,1988.80 L275.76,1988.80 L277.08,1988.80 L278.40,1988.80 L279.72,1988.80 L281.04,1988.80 L282.36,1988.80 L283.68,1988.80 L285.00,1988.80 L286.32,1988.80 L287.64,1988.80 L288.96,1988.80 L290.28,1988.80 L291.60,1988.80 L292.92,1988.80 L294.25,1988.80 L295.57,1988.80 L296.89,1988.80 L298.21,1988.80 L299.53,1988.80 L300.85,1988.80 L302.17,1988.80 L303.49,1988.80 L304.81,1988.80 L306.13,1988.80 L307.45,1988.80 L308.77,1988.80 L310.09,1988.80 L311.41,1988.79 L312.73,1988.79 L314.05,1988.79 L315.37,1988.79 L316.69,1988.79 L318.02,1988.79 L319.34,1988.79 L320.66,1988.79 L321.98,1988.79 L323.30,1988.79 L324.62,1988.79 L325.94,1988.79 L327.26,1988.79 L328.58,1988.79 L329.90,1988.79 L331.22,1988.79 L332.54,1988.79 L333.86,1988.79 L335.18,1988.79 L336.50,1988.79 L337.82,1988.79 L339.14,1988.79 L340.46,1988.79 L341.78,1988.79 L343.11,1988.79 L344.43,1988.79 L345.75,1988.79 L347.07,1988.79 L348.39,1988.79 L349.71,1988.79 L351.03,1988.79 L352.35,1988.79 L353.67,1988.79 L354.99,1988.79 L356.31,1988.79 L357.63,1988.79 L358.95,1988.79 L360.27,1988.79 L361.59,1988.79 L362.91,1988.79 L364.23,1988.79 L365.55,1988.79 L366.88,1988.78 L368.20,1988.78 L369.52,1988.78 L370.84,1988.78 L372.16,1988.78 L373.48,1988.78 L374.80,1988.78 L376.12,1988.78 L377.44,1988.78 L378.76,1988.78 L380.08,1988.78 L381.40,1988.78 L382.72,1988.78 L384.04,1988.78 L385.36,1988.78 L386.68,1988.78 L388.00,1988.78 L389.32,1988.78 L390.65,1988.78 L391.97,1988.78 L393.29,1988.78 L394.61,1988.78 L395.93,1988.78 L397.25,1988.78 L398.57,1988.78 L399.89,1988.78 L401.21,1988.78 L402.53,1988.78 L403.85,1988.78 L405.17,1988.78 L406.49,1988.78 L407.81,1988.77 L409.13,1988.77 L410.45,1988.77 L411.77,1988.77 L413.09,1988.77 L414.41,1988.77 L415.74,1988.77 L417.06,1988.77 L418.38,1988.77 L419.70,1988.77 L421.02,1988.77 L422.34,1988.77 L423.66,1988.77 L424.98,1988.77 L426.30,1988.77 L427.62,1988.77 L428.94,1988.77 L430.26,1988.77 L431.58,1988.77 L432.90,1988.77 L434.22,1988.77 L435.54,1988.77 L436.86,1988.77 L438.18,1988.77 L439.51,1988.76 L440.83,1988.76 L442.15,1988.76 L443.47,1988.76 L444.79,1988.76 L446.11,1988.76 L447.43,1988.76 L448.75,1988.76 L450.07,1988.76 L451.39,1988.76 L452.71,1988.76 L454.03,1988.76 L455.35,1988.76 L456.67,1988.76 L457.99,1988.76 L459.31,1988.76 L460.63,1988.76 L461.95,1988.76 L463.28,1988.76 L464.60,1988.75 L465.92,1988.75 L467.24,1988.75 L468.56,1988.75 L469.88,1988.75 L471.20,1988.75 L472.52,1988.75 L473.84,1988.75 L475.16,1988.75 L476.48,1988.75 L477.80,1988.75 L479.12,1988.75 L480.44,1988.75 L481.76,1988.75 L483.08,1988.75 L484.40,1988.75 L485.72,1988.74 L487.05,1988.74 L488.37,1988.74 L489.69,1988.74 L491.01,1988.74 L492.33,1988.74 L493.65,1988.74 L494.97,1988.74 L496.29,1988.74 L497.61,1988.74 L498.93,1988.74 L500.25,1988.74 L501.57,1988.74 L502.89,1988.74 L504.21,1988.73 L505.53,1988.73 L506.85,1988.73 L508.17,1988.73 L509.49,1988.73 L510.81,1988.73 L512.14,1988.73 L513.46,1988.73 L514.78,1988.73 L516.10,1988.73 L517.42,1988.73 L518.74,1988.72 L520.06,1988.72 L521.38,1988.72 L522.70,1988.72 L524.02,1988.72 L525.34,1988.72 L526.66,1988.72 L527.98,1988.72 L529.30,1988.72 L530.62,1988.72 L531.94,1988.71 L533.26,1988.71 L534.58,1988.71 L535.91,1988.71 L537.23,1988.71 L538.55,1988.71 L539.87,1988.71 L541.19,1988.71 L542.51,1988.71 L543.83,1988.70 L545.15,1988.70 L546.47,1988.70 L547.79,1988.70 L549.11,1988.70 L550.43,1988.70 L551.75,1988.70 L553.07,1988.70 L554.39,1988.70 L555.71,1988.69 L557.03,1988.69 L558.35,1988.69 L559.68,1988.69 L561.00,1988.69 L562.32,1988.69 L563.64,1988.69 L564.96,1988.68 L566.28,1988.68 L567.60,1988.68 L568.92,1988.68 L570.24,1988.68 L571.56,1988.68 L572.88,1988.68 L574.20,1988.67 L575.52,1988.67 L576.84,1988.67 L578.16,1988.67 L579.48,1988.67 L580.80,1988.67 L582.12,1988.66 L583.44,1988.66 L584.77,1988.66 L586.09,1988.66 L587.41,1988.66 L588.73,1988.65 L590.05,1988.65 L591.37,1988.65 L592.69,1988.65 L594.01,1988.65 L595.33,1988.64 L596.65,1988.64 L597.97,1988.64 L599.29,1988.64 L600.61,1988.64 L601.93,1988.63 L603.25,1988.63 L604.57,1988.63 L605.89,1988.63 L607.21,1988.63 L608.54,1988.62 L609.86,1988.62 L611.18,1988.62 L612.50,1988.62 L613.82,1988.61 L615.14,1988.61 L616.46,1988.61 L617.78,1988.61 L619.10,1988.60 L620.42,1988.60 L621.74,1988.60 L623.06,1988.60 L624.38,1988.59 L625.70,1988.59 L627.02,1988.59 L628.34,1988.58 L629.66,1988.58 L630.98,1988.58 L632.31,1988.58 L633.63,1988.57 L634.95,1988.57 L636.27,1988.57 L637.59,1988.56 L638.91,1988.56 L640.23,1988.56 L641.55,1988.55 L642.87,1988.55 L644.19,1988.55 L645.51,1988.54 L646.83,1988.54 L648.15,1988.53 L649.47,1988.53 L650.79,1988.53 L652.11,1988.52 L653.43,1988.52 L654.75,1988.52 L656.08,1988.51 L657.40,1988.51 L658.72,1988.50 L660.04,1988.50 L661.36,1988.49 L662.68,1988.49 L664.00,1988.49 L665.32,1988.48 L666.64,1988.48 L667.96,1988.47 L669.28,1988.47 L670.60,1988.46 L671.92,1988.46 L673.24,1988.45 L674.56,1988.45 L675.88,1988.44 L677.20,1988.44 L678.52,1988.43 L679.84,1988.43 L681.17,1988.42 L682.49,1988.42 L683.81,1988.41 L685.13,1988.40 L686.45,1988.40 L687.77,1988.39 L689.09,1988.39 L690.41,1988.38 L691.73,1988.37 L693.05,1988.37 L694.37,1988.36 L695.69,1988.35 L697.01,1988.35 L698.33,1988.34 L699.65,1988.33 L700.97,1988.33 L702.29,1988.32 L703.61,1988.31 L704.94,1988.30 L706.26,1988.30 L707.58,1988.29 L708.90,1988.28 L710.22,1988.27 L711.54,1988.27 L712.86,1988.26 L714.18,1988.25 L715.50,1988.24 L716.82,1988.23 L718.14,1988.22 L719.46,1988.21 L720.78,1988.20 L722.10,1988.19 L723.42,1988.19 L724.74,1988.18 L726.06,1988.17 L727.38,1988.16 L728.71,1988.15 L730.03,1988.13 L731.35,1988.12 L732.67,1988.11 L733.99,1988.10 L735.31,1988.09 L736.63,1988.08 L737.95,1988.07 L739.27,1988.06 L740.59,1988.04 L741.91,1988.03 L743.23,1988.02 L744.55,1988.01 L745.87,1987.99 L747.19,1987.98 L748.51,1987.97 L749.83,1987.95 L751.15,1987.94 L752.47,1987.93 L753.80,1987.91 L755.12,1987.90 L756.44,1987.88 L757.76,1987.87 L759.08,1987.85 L760.40,1987.84 L761.72,1987.82 L763.04,1987.80 L764.36,1987.79 L765.68,1987.77 L767.00,1987.75 L768.32,1987.74 L769.64,1987.72 L770.96,1987.70 L772.28,1987.68 L773.60,1987.66 L774.92,1987.64 L776.24,1987.62 L777.57,1987.60 L778.89,1987.58 L780.21,1987.56 L781.53,1987.54 L782.85,1987.52 L784.17,1987.50 L785.49,1987.47 L786.81,1987.45 L788.13,1987.43 L789.45,1987.40 L790.77,1987.38 L792.09,1987.35 L793.41,1987.33 L794.73,1987.30 L796.05,1987.28 L797.37,1987.25 L798.69,1987.22 L800.01,1987.20 L801.34,1987.17 L802.66,1987.14 L803.98,1987.11 L805.30,1987.08 L806.62,1987.05 L807.94,1987.02 L809.26,1986.99 L810.58,1986.95 L811.90,1986.92 L813.22,1986.89 L814.54,1986.85 L815.86,1986.82 L817.18,1986.78 L818.50,1986.75 L819.82,1986.71 L821.14,1986.67 L822.46,1986.63 L823.78,1986.59 L825.11,1986.55 L826.43,1986.51 L827.75,1986.47 L829.07,1986.43 L830.39,1986.38 L831.71,1986.34 L833.03,1986.29 L834.35,1986.25 L835.67,1986.20 L836.99,1986.15 L838.31,1986.10 L839.63,1986.05 L840.95,1986.00 L842.27,1985.95 L843.59,1985.89 L844.91,1985.84 L846.23,1985.78 L847.55,1985.73 L848.87,1985.67 L850.20,1985.61 L851.52,1985.55 L852.84,1985.49 L854.16,1985.42 L855.48,1985.36 L856.80,1985.29 L858.12,1985.23 L859.44,1985.16 L860.76,1985.09 L862.08,1985.02 L863.40,1984.94 L864.72,1984.87 L866.04,1984.79 L867.36,1984.71 L868.68,1984.64 L870.00,1984.55 L871.32,1984.47 L872.64,1984.39 L873.97,1984.30 L875.29,1984.21 L876.61,1984.12 L877.93,1984.03 L879.25,1983.93 L880.57,1983.84 L881.89,1983.74 L883.21,1983.63 L884.53,1983.53 L885.85,1983.43 L887.17,1983.32 L888.49,1983.21 L889.81,1983.09 L891.13,1982.98 L892.45,1982.86 L893.77,1982.74 L895.09,1982.61 L896.41,1982.49 L897.74,1982.36 L899.06,1982.22 L900.38,1982.09 L901.70,1981.95 L903.02,1981.81 L904.34,1981.66 L905.66,1981.51 L906.98,1981.36 L908.30,1981.20 L909.62,1981.04 L910.94,1980.88 L912.26,1980.71 L913.58,1980.54 L914.90,1980.37 L916.22,1980.19 L917.54,1980.00 L918.86,1979.81 L920.18,1979.62 L921.51,1979.42 L922.83,1979.22 L924.15,1979.01 L925.47,1978.79 L926.79,1978.57 L928.11,1978.35 L929.43,1978.12 L930.75,1977.88 L932.07,1977.64 L933.39,1977.39 L934.71,1977.14 L936.03,1976.87 L937.35,1976.61 L938.67,1976.33 L939.99,1976.05 L941.31,1975.76 L942.63,1975.46 L943.95,1975.15 L945.27,1974.84 L946.60,1974.52 L947.92,1974.18 L949.24,1973.84 L950.56,1973.49 L951.88,1973.13 L953.20,1972.76 L954.52,1972.38 L955.84,1971.99 L957.16,1971.59 L958.48,1971.17 L959.80,1970.75 L961.12,1970.31 L962.44,1969.86 L963.76,1969.40 L965.08,1968.92 L966.40,1968.43 L967.72,1967.92 L969.04,1967.40 L970.37,1966.86 L971.69,1966.30 L973.01,1965.73 L974.33,1965.14 L975.65,1964.54 L976.97,1963.91 L978.29,1963.26 L979.61,1962.60 L980.93,1961.91 L982.25,1961.20 L983.57,1960.46 L984.89,1959.70 L986.21,1958.92 L987.53,1958.11 L988.85,1957.27 L990.17,1956.40 L991.49,1955.51 L992.81,1954.58 L994.14,1953.62 L995.46,1952.62 L996.78,1951.59 L998.10,1950.53 L999.42,1949.42 L1000.74,1948.27 L1002.06,1947.08 L1003.38,1945.85 L1004.70,1944.56 L1006.02,1943.23 L1007.34,1941.85 L1008.66,1940.41 L1009.98,1938.91 L1011.30,1937.36 L1012.62,1935.74 L1013.94,1934.06 L1015.26,1932.30 L1016.58,1930.47 L1017.90,1928.56 L1019.23,1926.58 L1020.55,1924.50 L1021.87,1922.33 L1023.19,1920.07 L1024.51,1917.70 L1025.83,1915.23 L1027.15,1912.64 L1028.47,1909.93 L1029.79,1907.10 L1031.11,1904.13 L1032.43,1901.01 L1033.75,1897.74 L1035.07,1894.32 L1036.39,1890.72 L1037.71,1886.94 L1039.03,1882.96 L1040.35,1878.79 L1041.67,1874.40 L1043.00,1869.78 L1044.32,1864.92 L1045.64,1859.81 L1046.96,1854.42 L1048.28,1848.76 L1049.60,1842.79 L1050.92,1836.52 L1052.24,1829.92 L1053.56,1822.98 L1054.88,1815.68 L1056.20,1808.02 L1057.52,1799.99 L1058.84,1791.58 L1060.16,1782.78 L1061.48,1773.60 L1062.80,1764.03 L1064.12,1754.09 L1065.44,1743.80 L1066.77,1733.17 L1068.09,1722.23 L1069.41,1711.02 L1070.73,1699.57 L1072.05,1687.93 L1073.37,1676.16 L1074.69,1664.30 L1076.01,1652.43 L1077.33,1640.58 L1078.65,1628.83 L1079.97,1617.22 L1081.29,1605.81 L1082.61,1594.65 L1083.93,1583.77 L1085.25,1573.21 L1086.57,1562.99 L1087.89,1553.14 L1089.21,1543.67 L1090.54,1534.59 L1091.86,1525.90 L1093.18,1517.60 L1094.50,1509.70 L1095.82,1502.17 L1097.14,1495.02 L1098.46,1488.23 L1099.78,1481.79 L1101.10,1475.68 L1102.42,1469.89 L1103.74,1464.41 L1105.06,1459.22 L1106.38,1454.30 L1107.70,1449.65 L1109.02,1445.24 L1110.34,1441.08 L1111.66,1437.13 L1112.98,1433.40 L1114.30,1429.87 L1115.63,1426.52 L1116.95,1423.36 L1118.27,1420.37 L1119.59,1417.54 L1120.91,1414.85 L1122.23,1412.32 L1123.55,1409.92 L1124.87,1407.65 L1126.19,1405.50 L1127.51,1403.47 L1128.83,1401.55 L1130.15,1399.74 L1131.47,1398.03 L1132.79,1396.42 L1134.11,1394.89 L1135.43,1393.46 L1136.75,1392.10 L1138.07,1390.83 L1139.40,1389.63 L1140.72,1388.51 L1142.04,1387.46 L1143.36,1386.47 L1144.68,1385.55 L1146.00,1384.69 L1147.32,1383.89 L1148.64,1383.15 L1149.96,1382.47 L1151.28,1381.84 L1152.60,1381.26 L1153.92,1380.73 L1155.24,1380.24 L1156.56,1379.81 L1157.88,1379.42 L1159.20,1379.08 L1160.52,1378.78 L1161.84,1378.52 L1163.17,1378.30 L1164.49,1378.12 L1165.81,1377.98 L1167.13,1377.88 L1168.45,1377.81 L1169.77,1377.78 L1171.09,1377.78 L1172.41,1377.82 L1173.73,1377.90 L1175.05,1378.01 L1176.37,1378.15 L1177.69,1378.32 L1179.01,1378.52 L1180.33,1378.76 L1181.65,1379.02 L1182.97,1379.32 L1184.29,1379.64 L1185.61,1380.00 L1186.93,1380.38 L1188.26,1380.80 L1189.58,1381.24 L1190.90,1381.71 L1192.22,1382.21 L1193.54,1382.73 L1194.86,1383.29 L1196.18,1383.87 L1197.50,1384.48 L1198.82,1385.12 L1200.14,1385.78 L1201.46,1386.48 L1202.78,1387.20 L1204.10,1387.94 L1205.42,1388.72 L1206.74,1389.52 L1208.06,1390.34 L1209.38,1391.20 L1210.70,1392.08 L1212.03,1392.99 L1213.35,1393.93 L1214.67,1394.89 L1215.99,1395.88 L1217.31,1396.90 L1218.63,1397.95 L1219.95,1399.03 L1221.27,1400.13 L1222.59,1401.26 L1223.91,1402.42 L1225.23,1403.61 L1226.55,1404.82 L1227.87,1406.07 L1229.19,1407.34 L1230.51,1408.65 L1231.83,1409.98 L1233.15,1411.34 L1234.47,1412.73 L1235.80,1414.15 L1237.12,1415.61 L1238.44,1417.09 L1239.76,1418.60 L1241.08,1420.15 L1242.40,1421.72 L1243.72,1423.33 L1245.04,1424.97 L1246.36,1426.64 L1247.68,1428.35 L1249.00,1430.09 L1250.32,1431.86 L1251.64,1433.66 L1252.96,1435.50 L1254.28,1437.37 L1255.60,1439.27 L1256.92,1441.21 L1258.24,1443.18 L1259.57,1445.19 L1260.89,1447.24 L1262.21,1449.32 L1263.53,1451.43 L1264.85,1453.58 L1266.17,1455.77 L1267.49,1457.99 L1268.81,1460.25 L1270.13,1462.55 L1271.45,1464.88 L1272.77,1467.25 L1274.09,1469.66 L1275.41,1472.10 L1276.73,1474.58 L1278.05,1477.10 L1279.37,1479.66 L1280.69,1482.25 L1282.01,1484.88 L1283.33,1487.55 L1284.66,1490.25 L1285.98,1492.99 L1287.30,1495.77 L1288.62,1498.58 L1289.94,1501.44 L1291.26,1504.32 L1292.58,1507.25 L1293.90,1510.20 L1295.22,1513.20 L1296.54,1516.23 L1297.86,1519.29 L1299.18,1522.38 L1300.50,1525.51 L1301.82,1528.67 L1303.14,1531.86 L1304.46,1535.09 L1305.78,1538.34 L1307.10,1541.62 L1308.43,1544.93 L1309.75,1548.27 L1311.07,1551.63 L1312.39,1555.02 L1313.71,1558.44 L1315.03,1561.87 L1316.35,1565.33 L1317.67,1568.81 L1318.99,1572.31 L1320.31,1575.82 L1321.63,1579.35 L1322.95,1582.90 L1324.27,1586.46 L1325.59,1590.04 L1326.91,1593.62 L1328.23,1597.22 L1329.55,1600.82 L1330.87,1604.43 L1332.20,1608.04 L1333.52,1611.66 L1334.84,1615.27 L1336.16,1618.89 L1337.48,1622.51 L1338.80,1626.12 L1340.12,1629.73 L1341.44,1633.34 L1342.76,1636.93 L1344.08,1640.52 L1345.40,1644.10 L1346.72,1647.66 L1348.04,1651.21 L1349.36,1654.75 L1350.68,1658.27 L1352.00,1661.78 L1353.32,1665.26 L1354.64,1668.73 L1355.96,1672.17 L1357.29,1675.60 L1358.61,1679.00 L1359.93,1682.38 L1361.25,1685.73 L1362.57,1689.05 L1363.89,1692.35 L1365.21,1695.63 L1366.53,1698.87 L1367.85,1702.09 L1369.17,1705.27 L1370.49,1708.43 L1371.81,1711.55 L1373.13,1714.65 L1374.45,1717.71 L1375.77,1720.74 L1377.09,1723.74 L1378.41,1726.70 L1379.73,1729.64 L1381.06,1732.54 L1382.38,1735.40 L1383.70,1738.24 L1385.02,1741.04 L1386.34,1743.80 L1387.66,1746.54 L1388.98,1749.23 L1390.30,1751.90 L1391.62,1754.53 L1392.94,1757.13 L1394.26,1759.70 L1395.58,1762.23 L1396.90,1764.73 L1398.22,1767.19 L1399.54,1769.63 L1400.86,1772.03 L1402.18,1774.40 L1403.50,1776.73 L1404.83,1779.04 L1406.15,1781.31 L1407.47,1783.56 L1408.79,1785.77 L1410.11,1787.95 L1411.43,1790.10 L1412.75,1792.23 L1414.07,1794.32 L1415.39,1796.38 L1416.71,1798.42 L1418.03,1800.43 L1419.35,1802.40 L1420.67,1804.36 L1421.99,1806.28 L1423.31,1808.18 L1424.63,1810.05 L1425.95,1811.89 L1427.27,1813.71 L1428.60,1815.50 L1429.92,1817.27 L1431.24,1819.02 L1432.56,1820.73 L1433.88,1822.43 L1435.20,1824.10 L1436.52,1825.75 L1437.84,1827.38 L1439.16,1828.98 L1440.48,1830.56 L1441.80,1832.12 L1443.12,1833.66 L1444.44,1835.18 L1445.76,1836.67 L1447.08,1838.15 L1448.40,1839.61 L1449.72,1841.04 L1451.04,1842.46 L1452.36,1843.86 L1453.69,1845.24 L1455.01,1846.60 L1456.33,1847.94 L1457.65,1849.27 L1458.97,1850.57 L1460.29,1851.86 L1461.61,1853.14 L1462.93,1854.39 L1464.25,1855.63 L1465.57,1856.86 L1466.89,1858.06 L1468.21,1859.26 L1469.53,1860.43 L1470.85,1861.60 L1472.17,1862.74 L1473.49,1863.88 L1474.81,1865.00 L1476.13,1866.10 L1477.46,1867.19 L1478.78,1868.27 L1480.10,1869.33 L1481.42,1870.38 L1482.74,1871.42 L1484.06,1872.44 L1485.38,1873.46 L1486.70,1874.45 L1488.02,1875.44 L1489.34,1876.42 L1490.66,1877.38 L1491.98,1878.34 L1493.30,1879.28 L1494.62,1880.21 L1495.94,1881.13 L1497.26,1882.03 L1498.58,1882.93 L1499.90,1883.82 L1501.23,1884.70 L1502.55,1885.56 L1503.87,1886.42 L1505.19,1887.27 L1506.51,1888.10 L1507.83,1888.93 L1509.15,1889.75 L1510.47,1890.56 L1511.79,1891.36 L1513.11,1892.15 L1514.43,1892.93 L1515.75,1893.71 L1517.07,1894.47 L1518.39,1895.23 L1519.71,1895.98 L1521.03,1896.72 L1522.35,1897.45 L1523.67,1898.18 L1524.99,1898.90 L1526.32,1899.61 L1527.64,1900.31 L1528.96,1901.00 L1530.28,1901.69 L1531.60,1902.37 L1532.92,1903.04 L1534.24,1903.71 L1535.56,1904.37 L1536.88,1905.02 L1538.20,1905.66 L1539.52,1906.30 L1540.84,1906.94 L1542.16,1907.56 L1543.48,1908.18 L1544.80,1908.80 L1546.12,1909.40 L1547.44,1910.01 L1548.76,1910.60 L1550.09,1911.19 L1551.41,1911.77 L1552.73,1912.35 L1554.05,1912.92 L1555.37,1913.49 L1556.69,1914.05 L1558.01,1914.61 L1559.33,1915.16 L1560.65,1915.70 L1561.97,1916.25 L1563.29,1916.78 L1564.61,1917.31 L1565.93,1917.84 L1567.25,1918.36 L1568.57,1918.87 L1569.89,1919.38 L1571.21,1919.89 L1572.53,1920.39 L1573.86,1920.88 L1575.18,1921.38 L1576.50,1921.86 L1577.82,1922.35 L1579.14,1922.83 L1580.46,1923.30 L1581.78,1923.77 L1583.10,1924.24 L1584.42,1924.70 L1585.74,1925.15 L1587.06,1925.61 L1588.38,1926.06 L1589.70,1926.50 L1591.02,1926.95 L1592.34,1927.38 L1593.66,1927.82 L1594.98,1928.25 L1596.30,1928.67 L1597.63,1929.10 L1598.95,1929.52 L1600.27,1929.93 L1601.59,1930.34 L1602.91,1930.75 L1604.23,1931.16 L1605.55,1931.56 L1606.87,1931.96 L1608.19,1932.35 L1609.51,1932.74 L1610.83,1933.13 L1612.15,1933.52 L1613.47,1933.90 L1614.79,1934.28 L1616.11,1934.65 L1617.43,1935.02 L1618.75,1935.39 L1620.07,1935.76 L1621.39,1936.12 L1622.72,1936.48 L1624.04,1936.84 L1625.36,1937.20 L1626.68,1937.55 L1628.00,1937.90 L1629.32,1938.24 L1630.64,1938.59 L1631.96,1938.93 L1633.28,1939.26 L1634.60,1939.60 L1635.92,1939.93 L1637.24,1940.26 L1638.56,1940.59 L1639.88,1940.91 L1641.20,1941.24 L1642.52,1941.56 L1643.84,1941.87 L1645.16,1942.19 L1646.49,1942.50 L1647.81,1942.81 L1649.13,1943.12 L1650.45,1943.42 L1651.77,1943.72 L1653.09,1944.02 L1654.41,1944.32 L1655.73,1944.62 L1657.05,1944.91 L1658.37,1945.20 L1659.69,1945.49 L1661.01,1945.78 L1662.33,1946.06 L1663.65,1946.35 L1664.97,1946.63 L1666.29,1946.91 L1667.61,1947.18 L1668.93,1947.46 L1670.26,1947.73 L1671.58,1948.00 L1672.90,1948.27 L1674.22,1948.53 L1675.54,1948.80 L1676.86,1949.06 L1678.18,1949.32 L1679.50,1949.58 L1680.82,1949.84 L1682.14,1950.09 L1683.46,1950.34 L1684.78,1950.59 L1686.10,1950.84 L1687.42,1951.09 L1688.74,1951.34 L1690.06,1951.58 L1691.38,1951.82 L1692.70,1952.06 L1694.03,1952.30 L1695.35,1952.54 L1696.67,1952.77 L1697.99,1953.01 L1699.31,1953.24 L1700.63,1953.47 L1701.95,1953.70 L1703.27,1953.93 L1704.59,1954.15 L1705.91,1954.37 L1707.23,1954.60 L1708.55,1954.82 L1709.87,1955.04 L1711.19,1955.25 L1712.51,1955.47 L1713.83,1955.68 L1715.15,1955.90 L1716.47,1956.11 L1717.79,1956.32 L1719.12,1956.53 L1720.44,1956.73 L1721.76,1956.94 L1723.08,1957.14 L1724.40,1957.35 L1725.72,1957.55 L1727.04,1957.75 L1728.36,1957.95 L1729.68,1958.14 L1731.00,1958.34 L1732.32,1958.53 L1733.64,1958.73 L1734.96,1958.92 L1736.28,1959.11 L1737.60,1959.30 L1738.92,1959.49 L1740.24,1959.67 L1741.56,1959.86 L1742.89,1960.04 L1744.21,1960.23 L1745.53,1960.41 L1746.85,1960.59 L1748.17,1960.77 L1749.49,1960.94 L1750.81,1961.12 L1752.13,1961.30 L1753.45,1961.47 L1754.77,1961.64 L1756.09,1961.82 L1757.41,1961.99 L1758.73,1962.16 L1760.05,1962.33 L1761.37,1962.49 L1762.69,1962.66 L1764.01,1962.82 L1765.33,1962.99 L1766.66,1963.15 L1767.98,1963.31 L1769.30,1963.47 L1770.62,1963.63 L1771.94,1963.79 L1773.26,1963.95 L1774.58,1964.11 L1775.90,1964.26 L1777.22,1964.42 L1778.54,1964.57 L1779.86,1964.72 L1781.18,1964.88 L1782.50,1965.03 L1783.82,1965.18 L1785.14,1965.32 L1786.46,1965.47 L1787.78,1965.62 L1789.10,1965.76 L1790.42,1965.91 L1791.75,1966.05 L1793.07,1966.20 L1794.39,1966.34 L1795.71,1966.48 L1797.03,1966.62 L1798.35,1966.76 L1799.67,1966.90 L1800.99,1967.03 L1802.31,1967.17 L1803.63,1967.30 L1804.95,1967.44 L1806.27,1967.57 L1807.59,1967.71 L1808.91,1967.84 L1810.23,1967.97 L1811.55,1968.10 L1812.87,1968.23 L1814.19,1968.36 L1815.52,1968.48 L1816.84,1968.61 L1818.16,1968.74 L1819.48,1968.86 L1820.80,1968.99 L1822.12,1969.11 L1823.44,1969.23 L1824.76,1969.36 L1826.08,1969.48 L1827.40,1969.60 L1828.72,1969.72 L1830.04,1969.84 L1831.36,1969.96 L1832.68,1970.07 L1834.00,1970.19 L1835.32,1970.31 L1836.64,1970.42 L1837.96,1970.54 L1839.29,1970.65 L1840.61,1970.76 L1841.93,1970.87 L1843.25,1970.99 L1844.57,1971.10 L1845.89,1971.21 L1847.21,1971.32 L1848.53,1971.43 L1849.85,1971.53 L1851.17,1971.64 L1852.49,1971.75 L1853.81,1971.85 L1855.13,1971.96 L1856.45,1972.06 L1857.77,1972.17 L1859.09,1972.27 L1860.41,1972.37 L1861.73,1972.48 L1863.06,1972.58 L1864.38,1972.68 L1865.70,1972.78 L1867.02,1972.88 L1868.34,1972.98 L1869.66,1973.07 L1870.98,1973.17 L1872.30,1973.27 L1873.62,1973.36 L1874.94,1973.46 L1876.26,1973.56 L1877.58,1973.65 L1878.90,1973.74 L1880.22,1973.84 L1881.54,1973.93 L1882.86,1974.02 L1884.18,1974.11 L1885.50,1974.21 L1886.82,1974.30 L1888.15,1974.39 L1889.47,1974.47 L1890.79,1974.56 L1892.11,1974.65 L1893.43,1974.74 L1894.75,1974.83 L1896.07,1974.91 L1897.39,1975.00 L1898.71,1975.08 L1900.03,1975.17 L1901.35,1975.25 L1902.67,1975.34 L1903.99,1975.42 L1905.31,1975.50 L1906.63,1975.59 L1907.95,1975.67 L1909.27,1975.75 L1910.59,1975.83 L1911.92,1975.91 L1913.24,1975.99 L1914.56,1976.07 L1915.88,1976.15 L1917.20,1976.23 L1918.52,1976.30 L1919.84,1976.38 L1921.16,1976.46 L1922.48,1976.53 L1923.80,1976.61 L1925.12,1976.68 L1926.44,1976.76 L1927.76,1976.83 L1929.08,1976.91 L1930.40,1976.98 L1931.72,1977.05 L1933.04,1977.13 L1934.36,1977.20 L1935.69,1977.27 L1937.01,1977.34 L1938.33,1977.41 L1939.65,1977.48 L1940.97,1977.55 L1942.29,1977.62 L1943.61,1977.69 L1944.93,1977.76 L1946.25,1977.83 L1947.57,1977.90 L1948.89,1977.96 L1950.21,1978.03 L1951.53,1978.10 L1952.85,1978.16 L1954.17,1978.23 L1955.49,1978.29 L1956.81,1978.36 L1958.13,1978.42 L1959.45,1978.49 L1960.78,1978.55 L1962.10,1978.61 L1963.42,1978.68 L1964.74,1978.74 L1966.06,1978.80 L1967.38,1978.86 L1968.70,1978.92 L1970.02,1978.99 L1971.34,1979.05 L1972.66,1979.11 L1973.98,1979.17 L1975.30,1979.23 L1976.62,1979.28 L1977.94,1979.34 L1979.26,1979.40 L1980.58,1979.46 L1981.90,1979.52 L1983.22,1979.57 L1984.55,1979.63 L1985.87,1979.69 L1987.19,1979.74 L1988.51,1979.80 L1989.83,1979.85 L1991.15,1979.91 L1992.47,1979.96 L1993.79,1980.02 L1995.11,1980.07 L1996.43,1980.13 L1997.75,1980.18 L1999.07,1980.23 L2000.39,1980.29 L2001.71,1980.34 L2003.03,1980.39 L2004.35,1980.44 L2005.67,1980.49 L2006.99,1980.55 L2008.32,1980.60 L2009.64,1980.65 L2010.96,1980.70 L2012.28,1980.75 L2013.60,1980.80 L2014.92,1980.85 L2016.24,1980.90 L2017.56,1980.94 L2018.88,1980.99 L2020.20,1981.04 L2021.52,1981.09 L2022.84,1981.14 L2024.16,1981.18 L2025.48,1981.23 L2026.80,1981.28 L2028.12,1981.32 L2029.44,1981.37 L2030.76,1981.41 L2032.09,1981.46 L2033.41,1981.51 L2034.73,1981.55 L2036.05,1981.60 L2037.37,1981.64 L2038.69,1981.68 L2040.01,1981.73 L2041.33,1981.77 L2042.65,1981.81 L2043.97,1981.86 L2045.29,1981.90 L2046.61,1981.94 L2047.93,1981.99 L2049.25,1982.03 L2050.57,1982.07 L2051.89,1982.11 L2053.21,1982.15 L2054.53,1982.19 L2055.85,1982.23 L2057.18,1982.27 L2058.50,1982.31 L2059.82,1982.35 L2061.14,1982.39 L2062.46,1982.43 L2063.78,1982.47 L2065.10,1982.51 L2066.42,1982.55 L2067.74,1982.59 L2069.06,1982.63 L2070.38,1982.66 L2071.70,1982.70 L2073.02,1982.74 L2074.34,1982.78 L2075.66,1982.81 L2076.98,1982.85 L2078.30,1982.89 L2079.62,1982.92 L2080.95,1982.96 L2082.27,1983.00 L2083.59,1983.03 L2084.91,1983.07 L2086.23,1983.10 L2087.55,1983.14 L2088.87,1983.17 L2090.19,1983.21 L2091.51,1983.24 L2092.83,1983.28 L2094.15,1983.31 L2095.47,1983.34 L2096.79,1983.38 L2098.11,1983.41 L2099.43,1983.44 L2100.75,1983.48 L2102.07,1983.51 L2103.39,1983.54 L2104.72,1983.58 L2106.04,1983.61 L2107.36,1983.64 L2108.68,1983.67 L2110.00,1983.70 L2111.32,1983.73 L2112.64,1983.77 L2113.96,1983.80 L2115.28,1983.83 L2116.60,1983.86 L2117.92,1983.89 L2119.24,1983.92 L2120.56,1983.95 L2121.88,1983.98 L2123.20,1984.01 L2124.52,1984.04 L2125.84,1984.07 L2127.16,1984.10 L2128.48,1984.13 L2129.81,1984.15 L2131.13,1984.18 L2132.45,1984.21 L2133.77,1984.24 L2135.09,1984.27 L2136.41,1984.30 L2137.73,1984.32 L2139.05,1984.35 L2140.37,1984.38 L2141.69,1984.41 L2143.01,1984.43 L2144.33,1984.46 L2145.65,1984.49 L2146.97,1984.51 L2148.29,1984.54 L2149.61,1984.57 L2150.93,1984.59 L2152.25,1984.62 L2153.58,1984.64 L2154.90,1984.67 L2156.22,1984.70 L2157.54,1984.72 L2158.86,1984.75 L2160.18,1984.77 L2161.50,1984.80 L2162.82,1984.82 L2164.14,1984.84 L2165.46,1984.87 L2166.78,1984.89 L2168.10,1984.92 L2169.42,1984.94 L2170.74,1984.97 L2172.06,1984.99 L2173.38,1985.01 L2174.70,1985.04 L2176.02,1985.06 L2177.35,1985.08 L2178.67,1985.11 L2179.99,1985.13 L2181.31,1985.15 L2182.63,1985.17 L2183.95,1985.20 L2185.27,1985.22 L2186.59,1985.24 L2187.91,1985.26 L2189.23,1985.28 L2190.55,1985.31 L2191.87,1985.33 L2193.19,1985.35 L2194.51,1985.37 L2195.83,1985.39 L2197.15,1985.41 L2198.47,1985.43 L2199.79,1985.45 L2201.12,1985.47 L2202.44,1985.49 L2203.76,1985.52 L2205.08,1985.54 L2206.40,1985.56 L2207.72,1985.58 L2209.04,1985.60 L2210.36,1985.62 L2211.68,1985.64 L2213.00,1985.65" stroke="#000"/>
</g>
<rect x="231" y="1147" width="5" height="889" fill="#000"/>
<rect x="2210" y="1147" width="6" height="889" fill="#000"/>
<rect x="231" y="1147" width="1985" height="5" fill="#000"/>
<rect x="231" y="2030" width="1985" height="6" fill="#000"/>
<rect x="236" y="1147.00" width="20" height="5" fill="#000"/>
<rect x="236" y="1162.00" width="9" height="5" fill="#000"/>
<rect x="236" y="1177.00" width="9" height="5" fill="#000"/>
<rect x="236" y="1191.00" width="9" height="5" fill="#000"/>
<rect x="236" y="1206.00" width="9" height="5" fill="#000"/>
<rect x="236" y="1221.00" width="9" height="5" fill="#000"/>
<rect x="236" y="1236.00" width="20" height="5" fill="#000"/>
<rect x="236" y="1250.00" width="9" height="5" fill="#000"/>
<rect x="236" y="1265.00" width="9" height="5" fill="#000"/>
<rect x="236" y="1280.00" width="9" height="5" fill="#000"/>
<rect x="236" y="1295.00" width="9" height="5" fill="#000"/>
<rect x="236" y="1309.00" width="9" height="5" fill="#000"/>
<rect x="236" y="1324.00" width="20" height="5" fill="#000"/>
<rect x="236" y="1339.00" width="9" height="5" fill="#000"/>
<rect x="236" y="1353.00" width="9" height="5" fill="#000"/>
<rect x="236" y="1368.00" width="9" height="5" fill="#000"/>
<rect x="236" y="1383.00" width="9" height="5" fill="#000"/>
<rect x="236" y="1398.00" width="9" height="5" fill="#000"/>
<rect x="236" y="1412.00" width="20" height="5" fill="#000"/>
<rect x="236" y="1427.00" width="9" height="5" fill="#000"/>
<rect x="236" y="1442.00" width="9" height="5" fill="#000"/>
<rect x="236" y="1457.00" width="9" height="5" fill="#000"/>
<rect x="236" y="1471.00" width="9" height="5" fill="#000"/>
<rect x="236" y="1486.00" width="9" height="5" fill="#000"/>
<rect x="236" y="1501.00" width="20" height="5" fill="#000"/>
<rect x="236" y="1515.00" width="9" height="5" fill="#000"/>
<rect x="236" y="1530.00" width="9" height="5" fill="#000"/>
<rect x="236" y="1545.00" width="9" height="5" fill="#000"/>
<rect x="236" y="1560.00" width="9" height="5" fill="#000"/>
<rect x="236" y="1574.00" width="9" height="5" fill="#000"/>
<rect x="236" y="1589.00" width="20" height="5" fill="#000"/>
<rect x="236" y="1604.00" width="9" height="5" fill="#000"/>
<rect x="236" y="1618.00" width="9" height="5" fill="#000"/>
<rect x="236" y="1633.00" width="9" height="5" fill="#000"/>
<rect x="236" y="1648.00" width="9" height="5" fill="#000"/>
<rect x="236" y="1663.00" width="9" height="5" fill="#000"/>
<rect x="236" y="1677.00" width="20" height="5" fill="#000"/>
<rect x="236" y="1692.00" width="9" height="5" fill="#000"/>
<rect x="236" y="1707.00" width="9" height="5" fill="#000"/>
<rect x="236" y="1722.00" width="9" height="5" fill="#000"/>
<rect x="236" y="1736.00" width="9" height="5" fill="#000"/>
<rect x="236" y="1751.00" width="9" height="5" fill="#000"/>
<rect x="236" y="1766.00" width="20" height="5" fill="#000"/>
<rect x="236" y="1780.00" width="9" height="5" fill="#000"/>
<rect x="236" y="1795.00" width="9" height="5" fill="#000"/>
<rect x="236" y="1810.00" width="9" height="5" fill="#000"/>
<rect x="236" y="1825.00" width="9" height="5" fill="#000"/>
<rect x="236" y="1839.00" width="9" height="5" fill="#000"/>
<rect x="236" y="1854.00" width="20" height="5" fill="#000"/>
<rect x="236" y="1869.00" width="9" height="5" fill="#000"/>
<rect x="236" y="1884.00" width="9" height="5" fill="#000"/>
<rect x="236" y="1898.00" width="9" height="5" fill="#000"/>
<rect x="236" y="1913.00" width="9" height="5" fill="#000"/>
<rect x="236" y="1928.00" width="9" height="5" fill="#000"/>
<rect x="236" y="1942.00" width="20" height="5" fill="#000"/>
<rect x="236" y="1957.00" width="9" height="5" fill="#000"/>
<rect x="236" y="1972.00" width="9" height="5" fill="#000"/>
<rect x="236" y="1987.00" width="9" height="5" fill="#000"/>
<rect x="236" y="2001.00" width="9" height="5" fill="#000"/>
<rect x="236" y="2016.00" width="9" height="5" fill="#000"/>
<rect x="236" y="2031.00" width="20" height="5" fill="#000"/>
<rect x="231.00" y="2011" width="5" height="19" fill="#000"/>
<rect x="379.97" y="2021.7" width="5" height="8.3" fill="#000"/>
<rect x="467.12" y="2021.7" width="5" height="8.3" fill="#000"/>
<rect x="528.94" y="2021.7" width="5" height="8.3" fill="#000"/>
<rect x="576.90" y="2021.7" width="5" height="8.3" fill="#000"/>
<rect x="616.09" y="2021.7" width="5" height="8.3" fill="#000"/>
<rect x="649.22" y="2021.7" width="5" height="8.3" fill="#000"/>
<rect x="677.92" y="2021.7" width="5" height="8.3" fill="#000"/>
<rect x="703.23" y="2021.7" width="5" height="8.3" fill="#000"/>
<rect x="725.88" y="2011" width="5" height="19" fill="#000"/>
<rect x="874.85" y="2021.7" width="5" height="8.3" fill="#000"/>
<rect x="961.99" y="2021.7" width="5" height="8.3" fill="#000"/>
<rect x="1023.82" y="2021.7" width="5" height="8.3" fill="#000"/>
<rect x="1071.78" y="2021.7" width="5" height="8.3" fill="#000"/>
<rect x="1110.96" y="2021.7" width="5" height="8.3" fill="#000"/>
<rect x="1144.09" y="2021.7" width="5" height="8.3" fill="#000"/>
<rect x="1172.79" y="2021.7" width="5" height="8.3" fill="#000"/>
<rect x="1198.11" y="2021.7" width="5" height="8.3" fill="#000"/>
<rect x="1220.75" y="2011" width="5" height="19" fill="#000"/>
<rect x="1369.72" y="2021.7" width="5" height="8.3" fill="#000"/>
<rect x="1456.87" y="2021.7" width="5" height="8.3" fill="#000"/>
<rect x="1518.69" y="2021.7" width="5" height="8.3" fill="#000"/>
<rect x="1566.65" y="2021.7" width="5" height="8.3" fill="#000"/>
<rect x="1605.84" y="2021.7" width="5" height="8.3" fill="#000"/>
<rect x="1638.97" y="2021.7" width="5" height="8.3" fill="#000"/>
<rect x="1667.67" y="2021.7" width="5" height="8.3" fill="#000"/>
<rect x="1692.98" y="2021.7" width="5" height="8.3" fill="#000"/>
<rect x="1715.62" y="2011" width="5" height="19" fill="#000"/>
<rect x="1864.60" y="2021.7" width="5" height="8.3" fill="#000"/>
<rect x="1951.74" y="2021.7" width="5" height="8.3" fill="#000"/>
<rect x="2013.57" y="2021.7" width="5" height="8.3" fill="#000"/>
<rect x="2061.53" y="2021.7" width="5" height="8.3" fill="#000"/>
<rect x="2100.71" y="2021.7" width="5" height="8.3" fill="#000"/>
<rect x="2133.84" y="2021.7" width="5" height="8.3" fill="#000"/>
<rect x="2162.54" y="2021.7" width="5" height="8.3" fill="#000"/>
<rect x="2187.86" y="2021.7" width="5" height="8.3" fill="#000"/>
<text transform="translate(210.00,1168.10) scale(1,1.04)" font-size="64" text-anchor="end">100</text>
<text transform="translate(210.00,1256.45) scale(1,1.04)" font-size="64" text-anchor="end">80</text>
<text transform="translate(210.00,1344.80) scale(1,1.04)" font-size="64" text-anchor="end">60</text>
<text transform="translate(210.00,1433.15) scale(1,1.04)" font-size="64" text-anchor="end">40</text>
<text transform="translate(210.00,1521.50) scale(1,1.04)" font-size="64" text-anchor="end">20</text>
<text transform="translate(210.00,1609.85) scale(1,1.04)" font-size="64" text-anchor="end">0</text>
<text transform="translate(210.00,1698.20) scale(1,1.04)" font-size="64" text-anchor="end">-20</text>
<text transform="translate(210.00,1786.55) scale(1,1.04)" font-size="64" text-anchor="end">-40</text>
<text transform="translate(210.00,1874.90) scale(1,1.04)" font-size="64" text-anchor="end">-60</text>
<text transform="translate(210.00,1963.25) scale(1,1.04)" font-size="64" text-anchor="end">-80</text>
<text transform="translate(210.00,2051.60) scale(1,1.04)" font-size="64" text-anchor="end">-100</text>
<text transform="translate(234.00,2115.50) scale(1,1.04)" font-size="64" text-anchor="middle">10<tspan font-size="43" dy="-25">0</tspan></text>
<text transform="translate(728.88,2115.50) scale(1,1.04)" font-size="64" text-anchor="middle">10<tspan font-size="43" dy="-25">1</tspan></text>
<text transform="translate(1223.75,2115.50) scale(1,1.04)" font-size="64" text-anchor="middle">10<tspan font-size="43" dy="-25">2</tspan></text>
<text transform="translate(1718.62,2115.50) scale(1,1.04)" font-size="64" text-anchor="middle">10<tspan font-size="43" dy="-25">3</tspan></text>
<text transform="translate(2213.50,2115.50) scale(1,1.04)" font-size="64" text-anchor="middle">10<tspan font-size="43" dy="-25">4</tspan></text>
<text x="1238" y="2209" font-size="52" text-anchor="middle" textLength="329" lengthAdjust="spacing">Frequency / Hz</text>
<text transform="translate(54,1593.8) rotate(-90)" font-size="52" text-anchor="middle" textLength="370.3" lengthAdjust="spacing">Phase angle / deg</text>
</svg></body></html>
